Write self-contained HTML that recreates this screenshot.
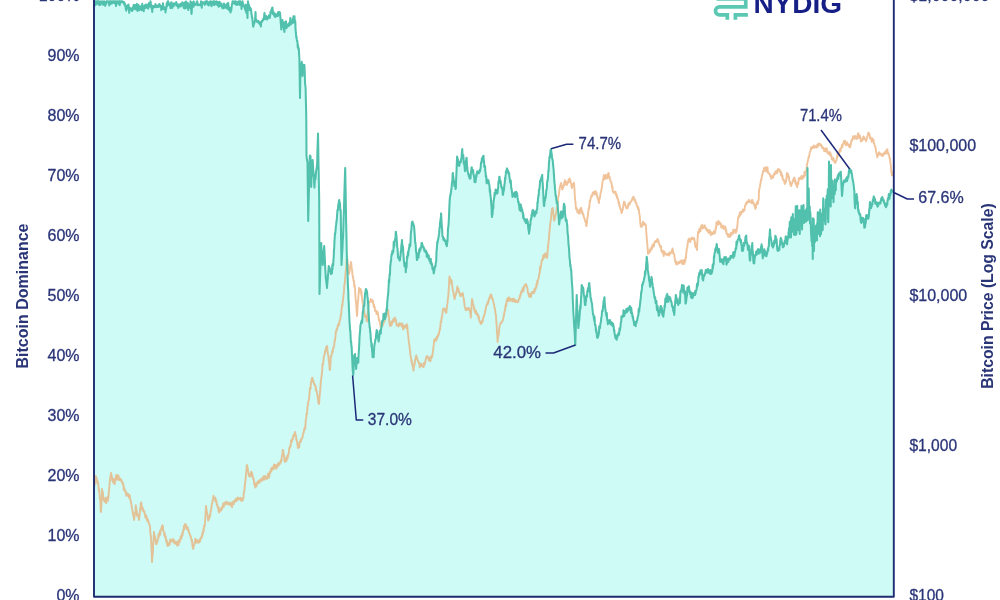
<!DOCTYPE html>
<html><head><meta charset="utf-8"><title>Bitcoin Dominance vs Bitcoin Price</title>
<style>html,body{margin:0;padding:0;background:#fff;}body{width:1000px;height:600px;overflow:hidden;}svg{display:block;}</style>
</head><body>
<svg width="1000" height="600" viewBox="0 0 1000 600">
<rect width="1000" height="600" fill="#fff"/>
<path d="M94,596.8 L94.00,2.5 L94.25,2.2 L94.50,1.3 L94.75,5.6 L95.00,3.9 L95.25,1.3 L95.50,1.3 L95.75,2.4 L96.00,2.7 L96.25,4.4 L96.50,2.7 L96.75,1.3 L97.00,2.0 L97.25,1.3 L97.50,1.3 L97.75,2.2 L98.00,1.3 L98.25,4.0 L98.50,3.5 L98.75,1.3 L99.00,3.2 L99.25,5.2 L99.50,2.8 L99.75,2.4 L100.00,2.5 L100.25,2.8 L100.50,1.4 L100.75,4.6 L101.00,1.8 L101.25,3.6 L101.50,2.6 L101.75,2.3 L102.00,1.3 L102.25,1.3 L102.50,3.2 L102.75,1.6 L103.00,1.5 L103.25,4.8 L103.50,1.8 L103.75,2.6 L104.00,1.4 L104.25,1.3 L104.50,1.6 L104.75,3.3 L105.00,3.0 L105.25,5.8 L105.50,3.6 L105.75,4.3 L106.00,4.2 L106.25,2.5 L106.50,1.3 L106.75,1.8 L107.00,1.3 L107.25,1.3 L107.50,1.3 L107.75,1.3 L108.00,2.0 L108.25,1.5 L108.50,2.8 L108.75,2.5 L109.00,3.7 L109.25,5.4 L109.50,1.3 L109.75,2.7 L110.00,2.5 L110.25,1.3 L110.50,3.9 L110.75,2.0 L111.00,2.1 L111.25,3.2 L111.50,1.3 L111.75,2.8 L112.00,3.4 L112.25,1.4 L112.50,2.3 L112.75,2.8 L113.00,1.5 L113.25,1.3 L113.50,2.1 L113.75,1.3 L114.00,1.6 L114.25,2.6 L114.50,3.2 L114.75,1.3 L115.00,3.0 L115.25,3.4 L115.50,3.1 L115.75,1.3 L116.00,6.0 L116.25,4.0 L116.50,3.3 L116.75,3.6 L117.00,1.3 L117.25,2.0 L117.50,1.3 L117.75,2.5 L118.00,2.0 L118.25,2.5 L118.50,3.4 L118.75,3.8 L119.00,1.3 L119.25,3.4 L119.50,1.3 L119.75,5.1 L120.00,2.5 L120.25,1.3 L120.50,2.4 L120.75,2.5 L121.00,1.9 L121.25,1.3 L121.50,1.3 L121.75,1.3 L122.00,2.0 L122.25,1.7 L122.50,1.3 L122.75,1.3 L123.00,1.6 L123.25,2.3 L123.50,2.9 L123.75,3.5 L124.00,3.0 L124.25,2.4 L124.50,4.7 L124.75,3.2 L125.00,5.0 L125.25,6.2 L125.50,6.3 L125.75,8.5 L126.00,10.0 L126.25,10.8 L126.50,6.2 L126.75,7.0 L127.00,6.0 L127.25,5.3 L127.50,8.4 L127.75,5.0 L128.00,6.0 L128.25,7.2 L128.50,4.5 L128.75,7.3 L129.00,9.6 L129.25,12.8 L129.50,7.4 L129.75,7.9 L130.00,8.0 L130.25,8.8 L130.50,8.4 L130.75,9.0 L131.00,8.9 L131.25,9.5 L131.50,10.4 L131.75,8.4 L132.00,10.5 L132.25,10.9 L132.50,10.5 L132.75,9.2 L133.00,9.4 L133.25,6.2 L133.50,8.0 L133.75,4.9 L134.00,8.0 L134.25,5.2 L134.50,6.9 L134.75,8.7 L135.00,7.5 L135.25,4.9 L135.50,8.4 L135.75,8.4 L136.00,9.6 L136.25,7.6 L136.50,8.4 L136.75,5.5 L137.00,3.9 L137.25,7.6 L137.50,10.9 L137.75,4.9 L138.00,7.0 L138.25,6.3 L138.50,5.0 L138.75,7.6 L139.00,9.4 L139.25,10.1 L139.50,7.3 L139.75,7.9 L140.00,6.5 L140.25,6.3 L140.50,9.3 L140.75,6.7 L141.00,9.5 L141.25,7.8 L141.50,6.8 L141.75,10.2 L142.00,6.1 L142.25,3.8 L142.50,8.4 L142.75,7.7 L143.00,7.0 L143.25,6.3 L143.50,8.0 L143.75,11.2 L144.00,7.2 L144.25,6.5 L144.50,8.0 L144.75,5.3 L145.00,7.0 L145.25,8.2 L145.50,4.7 L145.75,5.0 L146.00,4.6 L146.25,6.8 L146.50,7.6 L146.75,6.9 L147.00,4.6 L147.25,6.0 L147.50,5.8 L147.75,6.8 L148.00,6.0 L148.25,8.6 L148.50,5.1 L148.75,6.8 L149.00,3.0 L149.25,5.0 L149.50,6.6 L149.75,4.6 L150.00,6.0 L150.25,2.7 L150.50,1.3 L150.75,2.5 L151.00,7.0 L151.25,6.0 L151.50,5.6 L151.75,8.8 L152.00,8.0 L152.25,12.0 L152.50,5.9 L152.75,7.8 L153.00,8.1 L153.25,7.0 L153.50,7.5 L153.75,6.0 L154.00,6.5 L154.25,5.9 L154.50,6.4 L154.75,7.0 L155.00,6.5 L155.25,5.9 L155.50,4.1 L155.75,6.1 L156.00,7.3 L156.25,5.4 L156.50,5.7 L156.75,6.7 L157.00,6.3 L157.25,6.9 L157.50,5.8 L157.75,6.4 L158.00,6.0 L158.25,7.0 L158.50,6.6 L158.75,4.6 L159.00,6.5 L159.25,5.5 L159.50,4.0 L159.75,5.3 L160.00,6.0 L160.25,6.0 L160.50,7.1 L160.75,5.7 L161.00,6.9 L161.25,10.1 L161.50,7.8 L161.75,6.0 L162.00,7.0 L162.25,8.7 L162.50,7.3 L162.75,8.0 L163.00,3.3 L163.25,9.1 L163.50,6.6 L163.75,8.6 L164.00,8.8 L164.25,7.2 L164.50,9.1 L164.75,7.7 L165.00,8.5 L165.25,7.4 L165.50,12.5 L165.75,8.5 L166.00,9.8 L166.25,8.1 L166.50,6.0 L166.75,3.1 L167.00,6.0 L167.25,4.0 L167.50,2.4 L167.75,1.3 L168.00,1.3 L168.25,1.3 L168.50,3.5 L168.75,4.6 L169.00,5.0 L169.25,5.3 L169.50,4.8 L169.75,4.5 L170.00,4.0 L170.25,3.5 L170.50,8.1 L170.75,4.0 L171.00,2.7 L171.25,5.3 L171.50,2.2 L171.75,3.8 L172.00,3.3 L172.25,7.9 L172.50,4.1 L172.75,4.4 L173.00,4.5 L173.25,4.5 L173.50,4.0 L173.75,6.2 L174.00,3.3 L174.25,3.3 L174.50,4.6 L174.75,4.0 L175.00,4.4 L175.25,4.2 L175.50,3.9 L175.75,3.4 L176.00,4.0 L176.25,2.1 L176.50,5.8 L176.75,3.8 L177.00,3.6 L177.25,4.7 L177.50,4.8 L177.75,5.4 L178.00,5.0 L178.25,7.9 L178.50,6.0 L178.75,7.2 L179.00,4.6 L179.25,5.9 L179.50,5.2 L179.75,5.3 L180.00,6.0 L180.25,5.1 L180.50,3.8 L180.75,6.5 L181.00,5.1 L181.25,5.0 L181.50,4.9 L181.75,5.4 L182.00,5.4 L182.25,2.3 L182.50,3.2 L182.75,3.3 L183.00,5.0 L183.25,5.5 L183.50,5.5 L183.75,7.9 L184.00,5.7 L184.25,4.2 L184.50,2.6 L184.75,8.5 L185.00,6.0 L185.25,7.3 L185.50,6.2 L185.75,8.3 L186.00,1.6 L186.25,6.6 L186.50,5.5 L186.75,4.9 L187.00,4.1 L187.25,7.1 L187.50,7.0 L187.75,2.8 L188.00,5.5 L188.25,9.9 L188.50,4.5 L188.75,4.9 L189.00,4.5 L189.25,5.2 L189.50,5.6 L189.75,5.0 L190.00,5.0 L190.25,7.9 L190.50,1.3 L190.75,3.5 L191.00,5.0 L191.25,11.1 L191.50,14.0 L191.75,11.5 L192.00,5.0 L192.25,2.4 L192.50,5.4 L192.75,5.4 L193.00,6.4 L193.25,4.2 L193.50,6.8 L193.75,1.4 L194.00,4.3 L194.25,4.1 L194.50,3.9 L194.75,5.1 L195.00,4.5 L195.25,4.2 L195.50,4.6 L195.75,4.2 L196.00,4.4 L196.25,3.6 L196.50,3.4 L196.75,1.6 L197.00,4.4 L197.25,1.3 L197.50,4.2 L197.75,5.3 L198.00,4.0 L198.25,4.9 L198.50,4.7 L198.75,4.9 L199.00,5.2 L199.25,5.1 L199.50,4.6 L199.75,5.0 L200.00,4.5 L200.25,4.1 L200.50,4.4 L200.75,5.5 L201.00,1.3 L201.25,3.5 L201.50,3.5 L201.75,7.7 L202.00,3.4 L202.25,3.4 L202.50,3.0 L202.75,2.1 L203.00,3.5 L203.25,3.0 L203.50,2.4 L203.75,2.7 L204.00,3.0 L204.25,3.3 L204.50,3.3 L204.75,4.9 L205.00,3.0 L205.25,1.6 L205.50,4.0 L205.75,3.3 L206.00,1.3 L206.25,2.6 L206.50,3.5 L206.75,1.3 L207.00,2.4 L207.25,1.3 L207.50,1.6 L207.75,4.7 L208.00,2.5 L208.25,4.0 L208.50,2.6 L208.75,5.5 L209.00,2.2 L209.25,3.7 L209.50,4.4 L209.75,3.6 L210.00,3.0 L210.25,1.4 L210.50,2.5 L210.75,1.4 L211.00,5.0 L211.25,1.9 L211.50,6.2 L211.75,1.8 L212.00,4.3 L212.25,4.4 L212.50,1.7 L212.75,4.4 L213.00,2.0 L213.25,1.3 L213.50,1.3 L213.75,1.3 L214.00,1.9 L214.25,5.2 L214.50,2.8 L214.75,1.3 L215.00,2.5 L215.25,4.2 L215.50,2.7 L215.75,4.2 L216.00,2.8 L216.25,2.0 L216.50,1.8 L216.75,1.3 L217.00,1.9 L217.25,4.1 L217.50,5.3 L217.75,2.0 L218.00,3.0 L218.25,2.3 L218.50,3.5 L218.75,6.8 L219.00,5.3 L219.25,3.4 L219.50,1.7 L219.75,2.3 L220.00,3.5 L220.25,5.5 L220.50,5.8 L220.75,4.6 L221.00,5.4 L221.25,4.4 L221.50,3.5 L221.75,6.8 L222.00,6.5 L222.25,5.5 L222.50,8.3 L222.75,5.8 L223.00,5.5 L223.25,5.7 L223.50,8.3 L223.75,6.0 L224.00,3.6 L224.25,6.1 L224.50,5.1 L224.75,5.0 L225.00,6.0 L225.25,7.6 L225.50,6.0 L225.75,5.1 L226.00,6.6 L226.25,7.7 L226.50,6.1 L226.75,6.6 L227.00,3.7 L227.25,8.8 L227.50,7.3 L227.75,7.6 L228.00,7.0 L228.25,2.9 L228.50,7.0 L228.75,7.0 L229.00,9.8 L229.25,10.3 L229.50,7.5 L229.75,8.0 L230.00,9.0 L230.25,9.6 L230.50,12.5 L230.75,9.8 L231.00,11.0 L231.25,10.5 L231.50,8.2 L231.75,5.8 L232.00,4.0 L232.25,3.8 L232.50,1.3 L232.75,1.3 L233.00,2.0 L233.25,2.9 L233.50,1.8 L233.75,2.6 L234.00,1.3 L234.25,3.7 L234.50,2.1 L234.75,1.9 L235.00,3.5 L235.25,3.1 L235.50,1.3 L235.75,4.4 L236.00,4.4 L236.25,4.7 L236.50,3.6 L236.75,1.9 L237.00,3.6 L237.25,5.0 L237.50,2.3 L237.75,3.1 L238.00,3.0 L238.25,3.7 L238.50,1.3 L238.75,2.5 L239.00,2.5 L239.25,3.6 L239.50,4.9 L239.75,1.3 L240.00,3.0 L240.25,1.3 L240.50,2.0 L240.75,3.1 L241.00,3.4 L241.25,3.9 L241.50,9.0 L241.75,2.1 L242.00,4.7 L242.25,2.1 L242.50,1.3 L242.75,3.2 L243.00,4.0 L243.25,3.7 L243.50,6.2 L243.75,6.5 L244.00,5.9 L244.25,6.5 L244.50,6.9 L244.75,7.6 L245.00,9.0 L245.25,9.6 L245.50,10.4 L245.75,4.7 L246.00,9.2 L246.25,12.6 L246.50,8.5 L246.75,7.5 L247.00,9.0 L247.25,13.4 L247.50,18.0 L247.75,5.3 L248.00,1.3 L248.25,3.4 L248.50,5.2 L248.75,8.1 L249.00,5.0 L249.25,6.4 L249.50,7.2 L249.75,10.2 L250.00,9.0 L250.25,7.7 L250.50,8.3 L250.75,8.9 L251.00,9.0 L251.25,11.4 L251.50,14.1 L251.75,14.9 L252.00,18.0 L252.25,17.2 L252.50,20.7 L252.75,22.5 L253.00,26.0 L253.25,26.8 L253.50,25.8 L253.75,23.6 L254.00,23.0 L254.25,23.5 L254.50,22.0 L254.75,21.6 L255.00,21.0 L255.25,16.5 L255.50,12.0 L255.75,17.4 L256.00,21.0 L256.25,20.1 L256.50,20.0 L256.75,21.6 L257.00,21.2 L257.25,21.8 L257.50,21.2 L257.75,22.0 L258.00,22.0 L258.25,22.3 L258.50,21.0 L258.75,23.2 L259.00,23.2 L259.25,22.5 L259.50,22.2 L259.75,24.2 L260.00,24.0 L260.25,24.0 L260.50,23.8 L260.75,26.5 L261.00,26.0 L261.25,21.6 L261.50,22.3 L261.75,21.8 L262.00,21.0 L262.25,20.6 L262.50,20.9 L262.75,20.4 L263.00,20.3 L263.25,18.8 L263.50,19.9 L263.75,18.1 L264.00,18.0 L264.25,14.9 L264.50,13.0 L264.75,16.3 L265.00,19.0 L265.25,19.0 L265.50,19.0 L265.75,18.3 L266.00,19.1 L266.25,16.0 L266.50,17.7 L266.75,19.3 L267.00,18.6 L267.25,19.4 L267.50,18.6 L267.75,17.3 L268.00,18.0 L268.25,16.9 L268.50,17.5 L268.75,16.2 L269.00,15.4 L269.25,16.3 L269.50,17.9 L269.75,17.9 L270.00,16.0 L270.25,15.4 L270.50,11.8 L270.75,13.3 L271.00,12.0 L271.25,10.6 L271.50,9.6 L271.75,9.4 L272.00,8.0 L272.25,12.4 L272.50,7.5 L272.75,12.1 L273.00,14.0 L273.25,11.5 L273.50,13.7 L273.75,14.4 L274.00,15.0 L274.25,14.5 L274.50,16.0 L274.75,13.4 L275.00,15.5 L275.25,17.1 L275.50,14.0 L275.75,14.7 L276.00,14.5 L276.25,16.1 L276.50,15.6 L276.75,14.9 L277.00,15.0 L277.25,14.9 L277.50,16.1 L277.75,13.8 L278.00,12.3 L278.25,15.7 L278.50,13.5 L278.75,13.0 L279.00,12.1 L279.25,12.7 L279.50,12.2 L279.75,12.5 L280.00,12.5 L280.25,15.8 L280.50,18.3 L280.75,23.0 L281.00,25.0 L281.25,29.4 L281.50,21.3 L281.75,21.3 L282.00,20.9 L282.25,20.0 L282.50,20.0 L282.74,23.3 L282.98,22.4 L283.21,27.2 L283.45,27.1 L283.69,26.8 L283.92,30.3 L284.16,29.8 L284.40,32.0 L284.70,26.7 L285.00,22.5 L285.25,21.7 L285.50,24.3 L285.75,25.5 L286.00,21.4 L286.25,25.7 L286.50,28.2 L286.75,26.1 L287.00,24.2 L287.25,26.7 L287.50,26.0 L287.75,26.0 L288.00,25.2 L288.25,24.9 L288.50,26.1 L288.75,24.0 L289.00,24.9 L289.25,22.7 L289.50,25.4 L289.75,23.5 L290.00,22.5 L290.25,18.1 L290.50,23.2 L290.75,23.2 L291.00,24.2 L291.25,20.3 L291.50,23.6 L291.75,23.2 L292.00,22.5 L292.25,21.3 L292.50,21.5 L292.75,18.6 L293.00,19.6 L293.25,22.7 L293.50,16.2 L293.75,22.1 L294.00,17.5 L294.25,18.6 L294.50,16.2 L294.75,20.7 L295.00,22.5 L295.25,21.0 L295.50,28.3 L295.75,31.4 L296.00,34.0 L296.25,37.3 L296.50,36.6 L296.75,39.4 L297.00,41.1 L297.25,40.6 L297.50,42.5 L297.75,47.4 L298.00,44.9 L298.25,47.9 L298.50,49.7 L298.75,48.2 L299.00,52.0 L299.20,56.0 L299.40,59.0 L299.70,77.5 L300.00,98.0 L300.30,79.7 L300.60,64.0 L300.83,65.6 L301.07,63.5 L301.30,64.5 L301.53,65.9 L301.77,61.7 L302.00,66.0 L302.25,71.5 L302.50,76.0 L302.75,72.1 L303.00,66.0 L303.23,64.8 L303.47,66.6 L303.70,65.2 L303.93,65.9 L304.17,65.6 L304.40,65.0 L304.70,71.0 L305.00,82.5 L305.30,85.5 L305.60,88.0 L305.83,98.2 L306.07,107.3 L306.30,120.0 L306.50,156.0 L306.75,158.1 L307.00,159.8 L307.25,161.0 L307.50,163.0 L307.73,182.5 L307.97,201.6 L308.20,221.0 L308.45,210.5 L308.70,199.9 L308.95,189.7 L309.20,178.4 L309.45,168.9 L309.70,157.5 L309.97,155.6 L310.23,157.8 L310.50,156.0 L310.73,162.7 L310.97,176.1 L311.20,187.0 L311.45,177.9 L311.70,175.9 L311.95,173.2 L312.20,168.5 L312.45,165.2 L312.70,160.0 L312.95,164.9 L313.20,170.2 L313.45,171.5 L313.70,174.8 L313.95,178.5 L314.20,184.0 L314.45,187.6 L314.70,182.5 L314.95,178.5 L315.20,174.6 L315.45,179.4 L315.70,177.0 L315.95,173.2 L316.20,170.3 L316.45,169.7 L316.70,167.5 L316.95,165.0 L317.20,162.0 L317.47,149.5 L317.73,143.5 L318.00,133.5 L318.24,145.9 L318.48,162.5 L318.72,173.1 L318.96,187.1 L319.20,200.0 L319.50,294.0 L319.74,287.1 L319.99,279.5 L320.23,272.9 L320.47,265.5 L320.71,259.2 L320.96,250.1 L321.20,243.0 L321.45,248.3 L321.70,250.4 L321.95,255.0 L322.20,258.5 L322.45,259.1 L322.70,265.0 L322.95,263.1 L323.20,259.1 L323.45,255.5 L323.70,253.5 L323.95,248.8 L324.20,246.0 L324.45,251.1 L324.70,256.9 L324.95,261.6 L325.20,268.1 L325.45,271.2 L325.70,277.0 L325.96,279.4 L326.22,281.2 L326.48,283.2 L326.74,285.0 L327.00,288.0 L327.24,284.3 L327.49,281.1 L327.73,279.4 L327.97,275.2 L328.21,273.3 L328.46,270.1 L328.70,266.0 L328.96,266.7 L329.21,266.7 L329.47,270.5 L329.72,268.0 L329.98,270.3 L330.23,269.6 L330.49,272.0 L330.74,272.4 L331.00,274.0 L331.24,271.5 L331.49,273.7 L331.73,271.1 L331.98,273.2 L332.22,265.2 L332.47,269.5 L332.71,263.8 L332.96,265.7 L333.20,265.0 L333.45,259.6 L333.70,257.3 L333.95,250.4 L334.20,248.5 L334.45,241.4 L334.70,238.0 L334.96,233.3 L335.21,233.6 L335.47,231.2 L335.72,228.5 L335.98,225.4 L336.23,224.2 L336.49,220.9 L336.74,221.0 L337.00,216.0 L337.24,213.2 L337.49,209.7 L337.73,210.7 L337.98,209.3 L338.22,205.0 L338.47,204.2 L338.71,203.9 L338.96,200.7 L339.20,200.0 L339.45,202.5 L339.70,203.8 L339.95,203.0 L340.20,209.5 L340.45,211.0 L340.70,210.0 L340.97,229.5 L341.23,248.2 L341.50,265.0 L341.75,260.7 L342.00,255.9 L342.25,251.1 L342.50,248.3 L342.75,240.6 L343.00,238.0 L343.24,231.0 L343.49,222.1 L343.73,214.7 L343.98,209.2 L344.22,199.1 L344.47,190.0 L344.71,183.0 L344.96,174.6 L345.20,168.0 L345.45,181.8 L345.70,194.6 L345.95,212.0 L346.20,226.2 L346.45,236.8 L346.70,250.0 L346.96,259.4 L347.21,267.2 L347.47,272.0 L347.73,278.9 L347.99,288.3 L348.24,289.5 L348.50,300.0 L348.75,303.5 L349.00,311.0 L349.25,315.3 L349.50,321.5 L349.77,325.0 L350.05,330.5 L350.33,330.6 L350.60,336.7 L350.88,342.2 L351.15,342.1 L351.43,346.3 L351.70,347.5 L351.98,354.6 L352.25,359.4 L352.52,366.0 L352.80,371.5 L353.00,372.6 L353.20,375.0 L353.47,372.7 L353.73,364.8 L354.00,358.0 L354.25,355.3 L354.50,357.2 L354.75,354.7 L355.00,354.0 L355.27,359.0 L355.55,363.9 L355.83,364.3 L356.10,369.0 L356.38,365.7 L356.65,363.8 L356.93,363.0 L357.20,358.0 L357.48,358.5 L357.75,361.0 L358.02,359.8 L358.30,362.6 L358.55,355.5 L358.80,351.8 L359.05,347.5 L359.30,343.0 L359.57,336.3 L359.85,333.1 L360.12,330.4 L360.40,325.8 L360.67,324.2 L360.95,323.9 L361.23,322.0 L361.50,321.5 L361.77,320.2 L362.05,322.8 L362.33,320.2 L362.60,315.0 L362.88,311.4 L363.15,311.8 L363.43,308.2 L363.70,306.0 L363.98,305.2 L364.25,306.0 L364.52,299.8 L364.80,297.7 L365.05,293.3 L365.30,293.9 L365.55,291.5 L365.80,289.0 L366.07,289.2 L366.35,289.6 L366.62,290.8 L366.90,291.0 L367.17,293.7 L367.45,296.9 L367.73,298.3 L368.00,302.0 L368.27,305.4 L368.55,312.1 L368.83,317.2 L369.10,321.5 L369.38,324.0 L369.65,327.8 L369.93,327.6 L370.20,332.5 L370.48,332.5 L370.75,339.0 L371.02,340.7 L371.30,343.0 L371.55,346.8 L371.80,343.5 L372.05,350.5 L372.30,352.0 L372.57,357.1 L372.85,353.5 L373.12,353.5 L373.40,356.0 L373.67,357.2 L373.95,351.5 L374.23,346.7 L374.50,345.0 L374.77,343.4 L375.05,341.7 L375.33,339.1 L375.60,339.0 L375.88,338.7 L376.15,334.1 L376.43,332.2 L376.70,330.0 L376.98,330.8 L377.25,333.7 L377.52,335.8 L377.80,336.7 L378.05,336.5 L378.30,339.3 L378.55,341.5 L378.80,341.0 L379.07,338.2 L379.35,336.8 L379.62,331.6 L379.90,332.5 L380.17,330.2 L380.45,331.0 L380.73,333.7 L381.00,330.0 L381.27,327.9 L381.55,326.6 L381.83,324.5 L382.10,321.5 L382.38,320.6 L382.65,321.3 L382.93,320.9 L383.20,319.3 L383.48,314.0 L383.75,316.6 L384.02,317.3 L384.30,315.0 L384.55,313.5 L384.80,318.2 L385.05,319.2 L385.30,317.0 L385.57,316.1 L385.85,314.4 L386.12,313.6 L386.40,310.6 L386.67,308.3 L386.95,310.1 L387.23,302.5 L387.50,300.0 L387.77,296.9 L388.05,295.0 L388.33,291.5 L388.60,286.8 L388.88,280.1 L389.15,282.8 L389.43,277.2 L389.70,273.8 L389.98,274.8 L390.25,265.3 L390.52,264.9 L390.80,260.8 L391.05,261.0 L391.30,256.6 L391.55,254.3 L391.80,254.3 L392.04,254.6 L392.28,251.1 L392.52,253.6 L392.76,252.7 L393.00,252.0 L393.25,252.0 L393.50,247.6 L393.75,241.7 L394.00,247.0 L394.25,246.1 L394.50,241.7 L394.75,240.6 L395.00,240.0 L395.25,238.5 L395.50,238.1 L395.75,231.9 L396.00,232.0 L396.25,234.4 L396.50,236.8 L396.75,239.9 L397.00,243.9 L397.25,247.6 L397.50,248.1 L397.75,252.2 L398.00,256.0 L398.25,257.9 L398.50,258.3 L398.75,258.7 L399.00,258.4 L399.25,257.9 L399.50,259.9 L399.75,260.6 L400.00,260.0 L400.25,257.0 L400.50,255.6 L400.75,251.4 L401.00,252.8 L401.25,247.1 L401.50,244.4 L401.75,242.7 L402.00,240.0 L402.25,243.9 L402.50,245.3 L402.75,245.9 L403.00,247.6 L403.25,252.0 L403.50,255.3 L403.75,259.1 L404.00,262.0 L404.25,263.4 L404.50,266.3 L404.75,265.0 L405.00,263.1 L405.25,266.2 L405.50,264.5 L405.75,272.2 L406.00,268.0 L406.25,264.9 L406.50,267.6 L406.75,263.3 L407.00,256.5 L407.25,258.5 L407.50,257.2 L407.75,253.9 L408.00,252.0 L408.25,255.2 L408.50,250.9 L408.75,250.5 L409.00,247.8 L409.25,248.3 L409.50,244.4 L409.75,246.5 L410.00,246.0 L410.25,246.1 L410.50,241.6 L410.75,234.8 L411.00,231.6 L411.25,230.8 L411.50,227.9 L411.75,224.0 L412.00,222.0 L412.25,222.1 L412.50,221.7 L412.75,222.1 L413.00,224.0 L413.25,223.7 L413.50,225.0 L413.75,225.6 L414.00,226.0 L414.25,228.6 L414.50,232.0 L414.75,235.4 L415.00,240.0 L415.25,243.1 L415.50,242.9 L415.75,246.9 L416.00,251.7 L416.25,251.8 L416.50,254.2 L416.75,258.4 L417.00,260.0 L417.25,259.5 L417.50,253.8 L417.75,256.6 L418.00,257.5 L418.25,255.0 L418.50,257.6 L418.75,254.8 L419.00,251.9 L419.25,249.4 L419.50,252.3 L419.75,251.2 L420.00,250.0 L420.25,248.0 L420.50,249.7 L420.75,248.5 L421.00,247.0 L421.25,247.2 L421.50,243.0 L421.75,244.3 L422.00,243.0 L422.25,245.0 L422.50,244.7 L422.75,246.4 L423.00,247.1 L423.25,246.9 L423.50,247.0 L423.75,247.6 L424.00,249.3 L424.25,248.4 L424.50,251.4 L424.75,251.5 L425.00,250.0 L425.25,251.6 L425.50,250.9 L425.75,252.4 L426.00,252.2 L426.25,251.0 L426.50,252.5 L426.75,256.7 L427.00,255.4 L427.25,253.3 L427.50,254.3 L427.75,254.6 L428.00,256.0 L428.25,258.1 L428.50,257.2 L428.75,255.6 L429.00,259.2 L429.25,258.3 L429.50,260.8 L429.75,259.3 L430.00,260.6 L430.25,260.4 L430.50,263.5 L430.75,258.8 L431.00,262.0 L431.25,263.9 L431.50,262.8 L431.75,265.7 L432.00,263.9 L432.25,265.9 L432.50,269.1 L432.75,267.3 L433.00,268.0 L433.25,268.8 L433.50,271.5 L433.75,273.4 L434.00,272.0 L434.25,270.5 L434.50,269.3 L434.75,267.5 L435.00,266.2 L435.25,266.1 L435.50,266.4 L435.75,263.0 L436.00,262.0 L436.25,260.1 L436.50,251.5 L436.75,249.6 L437.00,246.4 L437.26,241.9 L437.51,243.2 L437.77,241.4 L438.03,239.6 L438.29,238.8 L438.54,237.2 L438.80,235.4 L439.06,233.7 L439.31,231.7 L439.57,227.6 L439.82,227.1 L440.08,222.3 L440.33,221.5 L440.59,218.5 L440.84,219.8 L441.10,213.4 L441.36,218.1 L441.62,223.1 L441.88,227.3 L442.14,229.2 L442.40,235.4 L442.64,236.7 L442.88,237.6 L443.11,236.7 L443.35,239.7 L443.59,239.0 L443.82,238.2 L444.06,240.1 L444.30,239.0 L444.55,240.8 L444.79,240.5 L445.04,240.7 L445.28,241.5 L445.53,240.6 L445.77,242.2 L446.02,244.3 L446.26,242.5 L446.51,241.8 L446.75,246.3 L447.00,245.5 L447.26,241.5 L447.51,241.5 L447.77,234.5 L448.03,228.0 L448.29,227.1 L448.54,225.0 L448.80,220.7 L449.05,214.7 L449.30,208.6 L449.55,203.1 L449.80,198.7 L450.06,196.6 L450.31,194.8 L450.57,195.1 L450.83,193.0 L451.09,191.3 L451.34,188.9 L451.60,187.7 L451.86,183.9 L452.12,182.1 L452.38,180.3 L452.64,174.2 L452.90,173.0 L453.13,175.4 L453.37,177.4 L453.60,180.0 L453.83,180.3 L454.07,182.2 L454.30,185.9 L454.55,186.0 L454.80,186.2 L455.05,185.9 L455.30,185.8 L455.55,188.9 L455.80,188.6 L456.06,181.3 L456.32,175.0 L456.58,170.1 L456.84,162.4 L457.10,156.5 L457.34,159.2 L457.58,158.3 L457.81,160.1 L458.05,159.8 L458.29,163.4 L458.52,163.5 L458.76,165.6 L459.00,165.7 L459.26,165.9 L459.51,163.0 L459.77,161.8 L460.03,162.9 L460.29,161.8 L460.54,161.0 L460.80,162.0 L461.04,160.4 L461.28,158.5 L461.52,157.7 L461.76,154.5 L462.00,152.0 L462.25,149.1 L462.50,154.7 L462.75,157.7 L463.00,158.3 L463.25,154.9 L463.50,158.3 L463.75,163.8 L464.00,162.2 L464.25,161.5 L464.50,165.6 L464.75,169.1 L465.00,171.2 L465.26,170.9 L465.52,164.9 L465.78,161.1 L466.04,161.6 L466.30,158.3 L466.56,157.7 L466.81,161.1 L467.07,166.2 L467.33,167.3 L467.59,170.8 L467.84,172.4 L468.10,173.0 L468.34,174.4 L468.58,174.3 L468.81,176.0 L469.05,176.3 L469.29,174.7 L469.52,178.5 L469.76,177.8 L470.00,178.5 L470.26,178.0 L470.51,178.5 L470.77,174.3 L471.03,172.1 L471.29,170.1 L471.54,167.4 L471.80,167.5 L472.06,169.0 L472.31,170.0 L472.57,170.7 L472.83,172.5 L473.09,169.9 L473.34,172.8 L473.60,174.9 L473.84,175.2 L474.08,177.0 L474.31,177.4 L474.55,182.1 L474.79,180.1 L475.02,178.6 L475.26,180.6 L475.50,182.2 L475.76,178.9 L476.01,178.3 L476.27,174.2 L476.53,176.4 L476.79,173.9 L477.04,172.1 L477.30,171.2 L477.55,171.4 L477.79,173.2 L478.04,171.4 L478.28,172.6 L478.53,172.6 L478.77,173.2 L479.02,172.3 L479.26,172.8 L479.51,172.2 L479.75,169.9 L480.00,171.2 L480.24,170.0 L480.48,168.5 L480.71,167.3 L480.95,163.3 L481.19,162.1 L481.42,163.0 L481.66,160.9 L481.90,158.3 L482.13,158.7 L482.37,160.2 L482.60,157.3 L482.83,158.3 L483.07,156.0 L483.30,156.5 L483.56,155.7 L483.82,162.1 L484.08,161.1 L484.34,167.0 L484.60,165.7 L484.84,167.6 L485.08,166.2 L485.31,171.6 L485.55,172.0 L485.79,176.2 L486.02,177.7 L486.26,176.0 L486.50,182.2 L486.76,183.4 L487.01,180.3 L487.27,182.3 L487.53,181.7 L487.79,179.8 L488.04,181.7 L488.30,182.2 L488.56,180.5 L488.81,183.1 L489.07,184.0 L489.33,184.5 L489.59,187.6 L489.84,192.2 L490.10,189.5 L490.34,194.7 L490.58,196.0 L490.81,197.9 L491.05,201.7 L491.29,204.4 L491.52,206.8 L491.76,214.0 L492.00,217.0 L492.26,215.1 L492.51,214.2 L492.77,210.5 L493.03,208.0 L493.29,208.5 L493.54,200.5 L493.80,200.6 L494.06,197.8 L494.31,197.6 L494.57,192.7 L494.83,192.7 L495.09,194.1 L495.34,194.7 L495.60,189.5 L495.84,189.9 L496.08,189.8 L496.31,192.4 L496.55,190.3 L496.79,190.8 L497.02,191.7 L497.26,193.4 L497.50,193.2 L497.76,190.2 L498.01,189.0 L498.27,186.0 L498.53,181.3 L498.79,183.5 L499.04,180.1 L499.30,176.7 L499.56,176.8 L499.81,180.3 L500.07,180.3 L500.33,181.0 L500.59,180.9 L500.84,183.2 L501.10,184.0 L501.34,187.0 L501.58,187.7 L501.81,187.5 L502.05,187.4 L502.29,189.3 L502.52,190.3 L502.76,194.1 L503.00,195.0 L503.25,192.9 L503.50,191.4 L503.75,190.4 L504.00,189.8 L504.25,185.9 L504.50,184.8 L504.75,183.0 L505.00,178.1 L505.25,179.7 L505.50,176.7 L505.75,174.4 L506.00,171.2 L506.25,172.6 L506.50,170.9 L506.75,169.5 L507.00,168.4 L507.24,169.4 L507.49,170.4 L507.73,170.6 L507.98,170.5 L508.22,171.6 L508.47,173.5 L508.71,173.0 L508.96,172.6 L509.20,174.9 L509.46,177.7 L509.71,178.1 L509.97,181.0 L510.23,182.5 L510.49,181.4 L510.74,180.4 L511.00,184.0 L511.25,188.4 L511.50,188.5 L511.75,190.2 L512.00,192.4 L512.25,194.2 L512.50,196.9 L512.74,195.8 L512.99,195.0 L513.23,195.4 L513.48,195.8 L513.72,193.3 L513.97,194.0 L514.21,195.5 L514.46,192.5 L514.70,193.2 L514.94,192.2 L515.19,197.1 L515.43,194.0 L515.68,192.1 L515.92,194.5 L516.17,191.7 L516.41,193.4 L516.66,192.8 L516.90,193.2 L517.13,193.8 L517.37,195.7 L517.60,197.9 L517.83,199.3 L518.07,200.9 L518.30,202.4 L518.54,201.5 L518.77,203.4 L519.01,205.4 L519.25,205.6 L519.49,209.6 L519.73,206.5 L519.96,204.8 L520.20,207.9 L520.46,210.9 L520.71,204.4 L520.97,206.3 L521.23,208.3 L521.49,207.4 L521.74,209.4 L522.00,209.7 L522.24,209.9 L522.48,211.6 L522.71,213.7 L522.95,212.7 L523.19,217.9 L523.42,214.5 L523.66,217.6 L523.90,218.9 L524.16,218.7 L524.41,219.6 L524.67,220.8 L524.93,220.5 L525.19,219.2 L525.44,222.1 L525.70,222.6 L525.96,223.0 L526.21,223.2 L526.47,221.7 L526.73,221.9 L526.99,219.2 L527.24,221.7 L527.50,220.7 L527.75,221.9 L528.00,224.7 L528.25,227.4 L528.50,230.5 L528.75,228.5 L529.00,233.6 L529.26,231.4 L529.51,230.7 L529.77,227.6 L530.03,224.5 L530.29,225.5 L530.54,221.2 L530.80,218.9 L531.04,219.4 L531.27,218.5 L531.51,214.9 L531.75,216.9 L531.99,214.3 L532.23,212.4 L532.46,210.3 L532.70,211.6 L532.94,212.9 L533.19,214.6 L533.43,210.2 L533.68,214.4 L533.92,212.4 L534.17,213.3 L534.41,216.4 L534.66,216.4 L534.90,215.2 L535.16,214.9 L535.41,211.7 L535.67,212.9 L535.93,212.2 L536.19,210.7 L536.44,213.3 L536.70,209.7 L536.96,209.5 L537.21,208.7 L537.47,202.2 L537.73,203.1 L537.99,198.8 L538.24,197.1 L538.50,195.0 L538.74,195.5 L538.98,189.6 L539.21,189.5 L539.45,188.8 L539.69,186.5 L539.92,183.8 L540.16,180.4 L540.40,180.4 L540.66,180.7 L540.91,179.6 L541.17,178.1 L541.43,179.3 L541.69,176.6 L541.94,177.9 L542.20,174.9 L542.46,181.8 L542.71,182.7 L542.97,187.8 L543.23,193.4 L543.49,197.1 L543.74,203.4 L544.00,206.0 L544.24,205.9 L544.48,201.1 L544.71,200.8 L544.95,200.6 L545.19,197.7 L545.42,198.5 L545.66,197.7 L545.90,195.0 L546.14,192.7 L546.39,189.7 L546.63,189.8 L546.88,187.7 L547.12,182.9 L547.37,180.6 L547.61,181.2 L547.86,178.8 L548.10,176.7 L548.33,170.7 L548.57,171.7 L548.80,166.7 L549.03,161.9 L549.27,160.1 L549.50,156.5 L549.75,158.0 L550.00,156.2 L550.25,152.9 L550.50,150.1 L550.75,150.4 L551.00,149.2 L551.26,151.3 L551.52,153.0 L551.78,154.6 L552.04,158.1 L552.30,158.3 L552.56,160.1 L552.82,161.0 L553.08,164.6 L553.34,166.9 L553.60,169.4 L553.83,173.4 L554.07,176.5 L554.30,180.2 L554.53,183.3 L554.77,184.7 L555.00,189.5 L555.25,190.2 L555.50,194.5 L555.75,196.1 L556.00,195.8 L556.25,199.1 L556.50,200.6 L556.76,203.2 L557.02,201.9 L557.28,201.6 L557.54,203.5 L557.80,206.0 L558.06,210.2 L558.32,212.9 L558.58,216.8 L558.84,219.9 L559.10,224.4 L559.36,222.4 L559.61,221.2 L559.87,217.5 L560.13,215.0 L560.39,217.1 L560.64,215.7 L560.90,211.6 L561.14,211.5 L561.38,214.1 L561.61,218.5 L561.85,214.3 L562.09,216.6 L562.32,216.9 L562.56,215.4 L562.80,217.0 L563.03,213.2 L563.27,210.3 L563.50,210.0 L563.73,205.9 L563.97,203.7 L564.20,204.2 L564.45,208.2 L564.70,206.0 L564.95,212.0 L565.20,214.8 L565.45,217.2 L565.70,220.7 L565.96,219.5 L566.22,221.0 L566.48,219.4 L566.74,221.0 L567.00,224.4 L567.26,225.3 L567.52,231.6 L567.78,234.6 L568.04,235.0 L568.30,240.0 L568.54,245.0 L568.79,246.1 L569.03,248.8 L569.27,253.3 L569.51,257.9 L569.76,259.2 L570.00,262.0 L570.25,266.1 L570.50,264.6 L570.75,268.1 L571.00,270.0 L571.25,269.8 L571.50,275.8 L571.75,279.6 L572.00,283.6 L572.25,286.4 L572.50,290.0 L572.77,299.7 L573.03,303.8 L573.30,311.7 L573.54,315.2 L573.78,318.6 L574.02,323.2 L574.26,326.9 L574.50,330.0 L574.77,334.6 L575.03,341.5 L575.30,345.0 L575.53,337.0 L575.77,328.8 L576.00,319.4 L576.23,312.2 L576.47,303.4 L576.70,295.0 L576.97,300.3 L577.23,308.4 L577.50,310.3 L577.77,316.7 L578.03,321.7 L578.30,328.0 L578.55,326.4 L578.80,323.7 L579.05,320.8 L579.30,319.9 L579.55,315.8 L579.80,313.0 L580.05,309.0 L580.30,305.4 L580.55,308.6 L580.80,303.0 L581.02,299.2 L581.25,296.7 L581.48,289.6 L581.70,285.0 L581.97,285.6 L582.23,287.2 L582.50,286.7 L582.77,287.1 L583.03,288.8 L583.30,288.0 L583.54,291.6 L583.79,294.4 L584.03,295.9 L584.27,295.9 L584.51,298.5 L584.76,303.0 L585.00,305.0 L585.24,302.9 L585.49,305.0 L585.73,297.7 L585.97,301.5 L586.21,296.6 L586.46,296.6 L586.70,295.0 L586.95,296.8 L587.20,292.5 L587.45,290.7 L587.70,290.4 L587.95,288.2 L588.20,291.3 L588.45,289.3 L588.70,287.5 L588.95,283.2 L589.20,283.0 L589.47,285.2 L589.73,287.8 L590.00,291.6 L590.27,293.6 L590.53,297.6 L590.80,298.0 L591.05,298.7 L591.30,300.8 L591.55,302.0 L591.80,303.0 L592.05,304.1 L592.30,307.8 L592.55,309.5 L592.80,312.4 L593.05,314.4 L593.30,315.0 L593.55,314.7 L593.80,318.2 L594.05,319.4 L594.30,320.9 L594.55,316.8 L594.80,322.8 L595.05,325.2 L595.30,324.7 L595.55,325.8 L595.80,328.0 L596.04,331.7 L596.29,329.3 L596.53,333.3 L596.77,333.2 L597.01,337.3 L597.26,336.0 L597.50,338.0 L597.75,337.6 L598.00,335.5 L598.25,336.2 L598.50,335.3 L598.75,332.1 L599.00,332.9 L599.25,326.4 L599.50,328.3 L599.75,328.3 L600.00,328.0 L600.25,325.2 L600.50,323.4 L600.75,322.3 L601.00,321.4 L601.25,317.5 L601.50,316.8 L601.75,315.7 L602.00,311.0 L602.25,311.6 L602.50,310.0 L602.74,311.0 L602.99,306.1 L603.23,307.1 L603.47,302.8 L603.71,300.5 L603.96,303.0 L604.20,298.0 L604.47,297.3 L604.73,302.2 L605.00,306.1 L605.27,308.8 L605.53,309.4 L605.80,313.0 L606.05,312.8 L606.30,316.0 L606.55,316.0 L606.80,313.0 L607.05,318.5 L607.30,320.4 L607.55,319.5 L607.80,324.2 L608.05,321.6 L608.30,321.7 L608.54,321.5 L608.79,321.7 L609.03,321.4 L609.27,322.9 L609.51,320.4 L609.76,321.4 L610.00,320.0 L610.25,323.7 L610.51,321.4 L610.76,324.4 L611.02,322.3 L611.27,322.8 L611.52,323.4 L611.78,323.1 L612.03,322.6 L612.28,323.6 L612.54,325.9 L612.79,325.3 L613.05,323.7 L613.30,326.7 L613.55,325.7 L613.80,328.1 L614.05,331.2 L614.30,330.0 L614.55,333.8 L614.80,334.2 L615.05,336.4 L615.30,336.5 L615.55,338.4 L615.80,338.0 L616.04,335.6 L616.29,335.5 L616.53,336.5 L616.77,339.7 L617.01,336.8 L617.26,335.4 L617.50,337.1 L617.74,335.0 L617.99,335.3 L618.23,333.8 L618.47,332.9 L618.71,334.3 L618.96,334.9 L619.20,333.0 L619.45,328.3 L619.70,330.2 L619.95,330.3 L620.20,327.9 L620.45,327.2 L620.70,323.7 L620.95,322.2 L621.20,321.8 L621.45,316.2 L621.70,316.7 L621.95,316.5 L622.21,317.4 L622.46,316.1 L622.72,317.0 L622.97,315.1 L623.22,315.9 L623.48,310.2 L623.73,314.3 L623.98,314.1 L624.24,316.0 L624.49,312.0 L624.75,313.6 L625.00,313.0 L625.25,311.9 L625.50,310.7 L625.75,312.9 L626.00,311.9 L626.25,309.7 L626.50,308.9 L626.75,309.5 L627.00,310.6 L627.25,311.9 L627.50,310.0 L627.75,310.6 L628.00,310.3 L628.25,307.8 L628.50,310.4 L628.75,310.0 L629.00,310.0 L629.25,307.5 L629.50,307.1 L629.75,306.1 L630.00,306.7 L630.25,307.8 L630.50,308.9 L630.75,307.3 L631.00,313.0 L631.25,307.8 L631.50,310.6 L631.75,312.8 L632.00,312.8 L632.25,315.6 L632.50,315.0 L632.74,317.8 L632.99,316.8 L633.23,318.8 L633.47,320.5 L633.71,320.9 L633.96,323.4 L634.20,325.0 L634.45,324.3 L634.70,323.7 L634.95,323.5 L635.20,323.3 L635.45,323.9 L635.70,326.2 L635.95,321.4 L636.20,321.4 L636.45,323.2 L636.70,321.7 L636.95,320.6 L637.20,320.4 L637.45,318.4 L637.70,317.6 L637.95,316.0 L638.20,315.4 L638.45,314.2 L638.70,308.7 L638.95,312.0 L639.20,311.7 L639.45,307.9 L639.70,307.0 L639.95,304.6 L640.20,302.8 L640.45,299.5 L640.70,299.4 L640.95,295.4 L641.20,292.0 L641.45,292.7 L641.70,290.0 L641.95,288.4 L642.20,284.6 L642.45,285.5 L642.70,284.8 L642.95,282.3 L643.20,283.1 L643.45,281.4 L643.70,280.8 L643.95,279.4 L644.20,278.0 L644.47,277.4 L644.73,276.3 L645.00,271.5 L645.27,274.2 L645.53,270.6 L645.80,270.0 L646.02,267.6 L646.25,262.8 L646.48,261.7 L646.70,256.7 L646.97,258.3 L647.23,262.3 L647.50,263.7 L647.77,269.9 L648.03,271.4 L648.30,273.0 L648.54,274.7 L648.79,275.9 L649.03,279.1 L649.27,281.1 L649.51,281.6 L649.76,283.6 L650.00,286.7 L650.24,279.7 L650.49,284.8 L650.73,283.8 L650.97,280.4 L651.21,279.6 L651.46,276.9 L651.70,278.0 L651.95,279.4 L652.20,282.9 L652.45,282.9 L652.70,287.2 L652.95,287.8 L653.20,287.7 L653.45,290.8 L653.70,291.5 L653.95,294.3 L654.20,295.0 L654.45,297.3 L654.70,296.6 L654.95,298.8 L655.20,297.6 L655.45,300.8 L655.70,303.1 L655.95,303.0 L656.20,302.6 L656.45,301.1 L656.70,306.7 L656.95,309.9 L657.20,308.0 L657.45,309.5 L657.70,306.2 L657.95,311.9 L658.20,309.8 L658.45,312.1 L658.70,315.8 L658.95,313.9 L659.20,315.0 L659.47,311.0 L659.73,312.6 L660.00,311.3 L660.27,308.0 L660.53,306.4 L660.80,306.7 L661.05,306.1 L661.30,308.8 L661.55,312.2 L661.80,307.8 L662.05,311.7 L662.30,313.6 L662.55,315.0 L662.80,313.9 L663.05,313.3 L663.30,316.7 L663.55,314.6 L663.80,312.3 L664.05,310.5 L664.30,310.3 L664.55,305.6 L664.80,307.4 L665.05,305.0 L665.30,298.8 L665.55,299.9 L665.80,298.0 L666.04,300.4 L666.29,299.9 L666.53,295.2 L666.77,302.0 L667.01,297.9 L667.26,293.9 L667.50,298.5 L667.74,298.9 L667.99,298.6 L668.23,297.0 L668.47,301.8 L668.71,296.8 L668.96,297.2 L669.20,296.7 L669.45,297.7 L669.70,299.2 L669.95,298.8 L670.20,297.6 L670.45,299.3 L670.70,299.7 L670.95,301.4 L671.20,301.7 L671.45,302.0 L671.70,303.0 L671.95,305.6 L672.20,306.3 L672.45,306.2 L672.70,307.7 L672.95,307.2 L673.20,310.4 L673.45,311.2 L673.70,312.3 L673.95,312.1 L674.20,315.0 L674.47,311.9 L674.73,305.8 L675.00,305.0 L675.27,300.7 L675.53,299.0 L675.80,295.0 L676.05,295.6 L676.30,298.8 L676.55,297.7 L676.80,302.7 L677.05,299.1 L677.30,301.0 L677.55,301.2 L677.80,303.0 L678.05,303.4 L678.30,305.0 L678.54,304.1 L678.79,303.1 L679.03,301.2 L679.27,301.2 L679.51,298.4 L679.76,297.4 L680.00,302.9 L680.24,294.5 L680.49,291.0 L680.73,292.6 L680.97,290.6 L681.21,290.7 L681.46,288.8 L681.70,288.0 L681.95,285.1 L682.20,287.7 L682.45,286.0 L682.70,288.9 L682.95,289.4 L683.20,292.5 L683.45,288.6 L683.70,285.4 L683.95,290.0 L684.20,290.0 L684.47,292.0 L684.73,294.3 L685.00,291.3 L685.27,297.6 L685.53,303.6 L685.80,303.0 L686.05,302.1 L686.30,300.0 L686.55,298.1 L686.80,294.7 L687.05,295.8 L687.30,287.8 L687.55,292.5 L687.80,291.2 L688.05,287.2 L688.30,286.7 L688.54,286.7 L688.79,286.2 L689.03,287.4 L689.27,289.5 L689.51,291.4 L689.76,290.9 L690.00,294.0 L690.24,292.5 L690.49,293.9 L690.73,292.6 L690.97,297.4 L691.21,292.7 L691.46,292.5 L691.70,296.7 L691.95,296.2 L692.21,296.2 L692.46,298.3 L692.72,296.7 L692.97,296.8 L693.22,293.4 L693.48,294.7 L693.73,295.5 L693.98,293.8 L694.24,293.0 L694.49,293.5 L694.75,294.9 L695.00,295.0 L695.25,290.9 L695.50,293.9 L695.75,292.7 L696.00,290.5 L696.25,290.6 L696.50,290.1 L696.75,287.1 L697.00,283.8 L697.25,286.8 L697.50,285.0 L697.74,285.3 L697.99,283.0 L698.23,281.2 L698.47,276.5 L698.71,277.6 L698.96,275.9 L699.20,273.0 L699.45,273.0 L699.70,272.4 L699.95,274.7 L700.20,272.4 L700.45,270.4 L700.70,272.5 L700.95,274.0 L701.20,270.6 L701.45,271.5 L701.70,270.0 L701.97,274.7 L702.23,273.4 L702.50,279.1 L702.77,275.7 L703.03,280.5 L703.30,280.0 L703.55,276.6 L703.80,276.5 L704.05,276.3 L704.30,275.7 L704.55,274.5 L704.80,274.9 L705.05,273.1 L705.30,272.9 L705.55,271.3 L705.80,270.0 L706.04,270.9 L706.29,269.7 L706.53,270.9 L706.77,272.1 L707.01,272.6 L707.26,271.0 L707.50,272.0 L707.74,269.8 L707.99,269.0 L708.23,269.6 L708.47,272.1 L708.71,272.8 L708.96,271.7 L709.20,271.7 L709.45,270.5 L709.70,272.5 L709.95,271.4 L710.20,274.0 L710.45,270.1 L710.70,270.7 L710.95,270.9 L711.20,272.9 L711.45,273.7 L711.70,273.0 L711.95,270.6 L712.20,271.8 L712.45,268.4 L712.70,264.9 L712.95,268.1 L713.20,264.7 L713.45,263.1 L713.70,264.2 L713.95,256.4 L714.20,258.0 L714.47,254.3 L714.73,252.5 L715.00,252.5 L715.24,249.0 L715.49,249.7 L715.73,250.3 L715.97,247.2 L716.21,249.2 L716.46,245.9 L716.70,244.0 L716.96,245.5 L717.22,248.6 L717.48,248.3 L717.74,252.7 L718.00,251.0 L718.25,250.7 L718.50,250.9 L718.75,249.0 L719.00,249.0 L719.24,251.2 L719.48,254.7 L719.72,256.5 L719.96,259.3 L720.20,261.8 L720.46,259.7 L720.71,260.3 L720.97,261.4 L721.23,261.6 L721.49,260.2 L721.74,259.2 L722.00,259.5 L722.24,262.3 L722.48,262.5 L722.72,262.9 L722.96,261.3 L723.20,263.0 L723.46,264.3 L723.71,259.2 L723.97,260.9 L724.23,257.2 L724.49,260.1 L724.74,258.7 L725.00,257.0 L725.24,259.2 L725.49,258.1 L725.73,260.0 L725.97,260.9 L726.21,257.2 L726.46,264.7 L726.70,263.0 L726.96,263.6 L727.21,260.1 L727.47,262.1 L727.72,260.3 L727.98,259.2 L728.23,262.1 L728.49,258.6 L728.74,258.5 L729.00,259.5 L729.26,258.8 L729.51,259.1 L729.77,259.8 L730.02,258.4 L730.28,257.1 L730.53,256.0 L730.79,256.1 L731.04,256.7 L731.30,257.0 L731.54,255.8 L731.78,257.7 L732.02,256.0 L732.26,257.0 L732.50,257.2 L732.74,255.0 L732.98,257.0 L733.22,252.2 L733.46,257.8 L733.70,256.0 L733.94,255.4 L734.19,253.4 L734.43,255.9 L734.67,251.8 L734.91,252.8 L735.16,252.2 L735.40,250.0 L735.66,248.3 L735.91,248.2 L736.17,248.9 L736.43,241.9 L736.69,245.3 L736.94,242.8 L737.20,243.0 L737.46,240.7 L737.71,239.7 L737.97,239.5 L738.23,239.4 L738.49,238.6 L738.74,236.7 L739.00,236.0 L739.24,235.4 L739.49,238.7 L739.73,238.3 L739.97,239.9 L740.21,240.8 L740.46,240.4 L740.70,242.0 L740.94,239.9 L741.19,243.4 L741.43,245.0 L741.67,245.4 L741.91,250.5 L742.16,249.5 L742.40,251.0 L742.66,249.6 L742.91,250.8 L743.17,250.0 L743.43,246.8 L743.69,242.9 L743.94,246.2 L744.20,245.5 L744.46,244.0 L744.71,242.8 L744.97,243.5 L745.23,240.7 L745.49,236.7 L745.74,240.7 L746.00,237.3 L746.24,235.5 L746.49,241.0 L746.73,242.4 L746.97,243.3 L747.21,242.9 L747.46,245.5 L747.70,246.6 L747.98,249.8 L748.25,246.6 L748.52,246.6 L748.80,245.5 L749.04,248.5 L749.28,249.4 L749.52,255.9 L749.76,259.9 L750.00,260.6 L750.26,259.8 L750.51,255.0 L750.77,255.4 L751.02,253.3 L751.28,251.8 L751.53,248.1 L751.79,245.7 L752.04,245.0 L752.30,243.0 L752.54,251.6 L752.78,250.9 L753.02,255.1 L753.26,259.4 L753.50,263.0 L753.76,262.7 L754.01,259.8 L754.27,263.5 L754.52,259.2 L754.78,258.3 L755.03,255.0 L755.29,256.1 L755.54,255.2 L755.80,254.8 L756.06,251.9 L756.31,252.9 L756.57,254.7 L756.82,251.1 L757.08,250.6 L757.33,251.8 L757.59,251.1 L757.84,251.6 L758.10,249.0 L758.34,253.6 L758.58,250.4 L758.81,249.4 L759.05,251.0 L759.29,251.4 L759.52,252.0 L759.76,253.2 L760.00,252.5 L760.27,251.9 L760.53,250.8 L760.80,249.0 L761.07,246.6 L761.33,246.8 L761.60,244.3 L761.84,247.3 L762.08,246.4 L762.32,251.8 L762.56,256.3 L762.80,258.3 L763.06,255.5 L763.31,256.5 L763.57,255.4 L763.83,254.8 L764.09,255.1 L764.34,249.2 L764.60,251.3 L764.84,252.4 L765.09,251.1 L765.33,251.6 L765.57,255.5 L765.81,255.3 L766.06,256.2 L766.30,256.0 L766.56,256.2 L766.81,253.3 L767.07,254.1 L767.32,252.9 L767.58,251.5 L767.83,248.9 L768.09,250.6 L768.34,247.7 L768.60,246.6 L768.84,246.0 L769.08,239.9 L769.32,237.1 L769.56,236.5 L769.80,231.5 L770.04,229.4 L770.28,234.3 L770.52,238.9 L770.76,237.2 L771.00,239.6 L771.24,240.1 L771.49,242.2 L771.73,244.0 L771.97,245.8 L772.21,242.9 L772.46,246.1 L772.70,246.6 L772.96,247.6 L773.21,245.2 L773.47,246.6 L773.73,244.1 L773.99,244.4 L774.24,240.5 L774.50,243.0 L774.77,241.1 L775.05,240.6 L775.33,235.8 L775.60,236.0 L775.86,237.1 L776.11,240.1 L776.37,243.1 L776.63,239.0 L776.89,244.8 L777.14,247.8 L777.40,250.0 L777.64,250.7 L777.89,250.8 L778.13,248.5 L778.37,250.8 L778.61,248.1 L778.86,249.4 L779.10,249.0 L779.34,249.9 L779.58,245.7 L779.81,245.4 L780.05,244.5 L780.29,240.2 L780.52,240.9 L780.76,237.9 L781.00,238.5 L781.27,239.7 L781.53,239.6 L781.80,243.7 L782.07,244.1 L782.33,242.4 L782.60,244.3 L782.84,247.3 L783.08,244.8 L783.32,246.5 L783.56,245.8 L783.80,246.6 L784.06,244.1 L784.31,243.8 L784.57,242.4 L784.83,240.5 L785.09,243.1 L785.34,241.8 L785.60,237.3 L785.84,236.2 L786.09,237.8 L786.33,243.2 L786.57,240.5 L786.81,238.9 L787.06,244.3 L787.30,242.0 L787.54,240.2 L787.79,236.7 L788.03,238.1 L788.27,238.5 L788.51,232.4 L788.76,235.9 L789.00,228.2 L789.24,229.2 L789.48,237.2 L789.72,222.0 L789.96,227.8 L790.20,221.9 L790.46,224.0 L790.71,220.6 L790.97,237.5 L791.23,217.2 L791.49,218.8 L791.74,230.5 L792.00,217.6 L792.27,224.9 L792.55,220.5 L792.83,214.1 L793.10,232.1 L793.34,221.2 L793.58,223.7 L793.82,234.3 L794.06,234.8 L794.30,229.2 L794.53,219.1 L794.77,225.8 L795.00,234.0 L795.25,234.9 L795.50,216.5 L795.75,206.3 L796.00,221.3 L796.25,234.4 L796.50,232.9 L796.75,216.1 L797.00,210.8 L797.25,205.9 L797.50,227.9 L797.75,230.1 L798.00,225.9 L798.25,229.4 L798.50,227.1 L798.75,223.8 L799.00,214.4 L799.25,210.2 L799.50,230.2 L799.75,234.0 L800.00,213.5 L800.25,211.8 L800.50,212.7 L800.75,224.2 L801.00,210.3 L801.25,211.4 L801.50,205.9 L801.75,219.7 L802.00,229.4 L802.25,222.5 L802.50,222.0 L802.75,210.4 L803.00,217.8 L803.25,209.9 L803.50,205.1 L803.75,215.3 L804.00,222.9 L804.25,211.4 L804.50,215.6 L804.75,218.7 L805.00,221.5 L805.25,210.8 L805.50,220.9 L805.75,219.4 L806.00,221.8 L806.25,209.3 L806.50,217.7 L806.75,217.5 L807.00,208.3 L807.25,213.6 L807.50,168.0 L807.75,220.3 L808.00,207.8 L808.25,216.2 L808.50,209.0 L808.75,188.6 L809.00,206.2 L809.25,218.3 L809.50,217.8 L809.75,206.5 L810.00,223.6 L810.25,211.7 L810.50,215.8 L810.75,219.1 L811.00,232.6 L811.25,235.2 L811.50,240.6 L811.75,241.8 L812.00,238.5 L812.25,246.2 L812.50,230.0 L812.75,259.0 L813.00,218.2 L813.25,223.3 L813.50,221.7 L813.75,219.1 L814.00,251.0 L814.25,228.2 L814.50,226.6 L814.75,232.3 L815.00,242.1 L815.25,227.8 L815.50,228.5 L815.75,238.2 L816.00,231.8 L816.25,225.2 L816.50,238.7 L816.75,232.6 L817.00,240.5 L817.25,223.1 L817.50,225.3 L817.75,212.4 L818.00,227.8 L818.25,212.2 L818.50,214.9 L818.75,213.4 L819.00,234.0 L819.25,230.6 L819.50,233.4 L819.75,228.3 L820.00,236.3 L820.25,209.6 L820.50,216.3 L820.75,228.3 L821.00,234.3 L821.25,223.8 L821.50,230.3 L821.75,223.9 L822.00,230.4 L822.25,213.7 L822.50,222.7 L822.75,229.9 L823.00,211.1 L823.25,198.3 L823.50,200.2 L823.75,212.5 L824.00,214.4 L824.25,212.8 L824.50,219.8 L824.75,209.9 L825.00,220.5 L825.25,223.7 L825.50,224.4 L825.75,218.5 L826.00,199.6 L826.25,210.0 L826.50,203.5 L826.75,195.7 L827.00,196.7 L827.25,202.6 L827.50,194.3 L827.75,189.4 L828.00,218.3 L828.25,222.3 L828.50,211.3 L828.75,193.1 L829.00,161.5 L829.25,184.6 L829.50,190.9 L829.75,206.2 L830.00,177.7 L830.25,176.0 L830.50,195.5 L830.75,206.5 L831.00,165.0 L831.25,196.3 L831.50,198.4 L831.75,187.1 L832.00,191.7 L832.25,186.9 L832.50,180.5 L832.75,182.0 L833.00,196.5 L833.25,194.9 L833.50,202.3 L833.75,193.0 L834.00,193.6 L834.25,193.1 L834.50,190.7 L834.75,193.9 L835.00,179.4 L835.26,187.1 L835.51,189.7 L835.77,190.4 L836.02,180.1 L836.28,180.0 L836.53,179.7 L836.79,181.7 L837.04,179.8 L837.30,177.5 L837.55,177.2 L837.80,176.1 L838.05,175.1 L838.30,178.8 L838.55,176.0 L838.80,173.6 L839.05,174.8 L839.30,175.6 L839.55,174.6 L839.80,173.7 L840.05,174.7 L840.30,172.0 L840.55,173.0 L840.80,171.7 L841.04,176.1 L841.28,180.9 L841.52,187.0 L841.76,191.0 L842.00,196.0 L842.24,193.8 L842.48,191.4 L842.72,186.2 L842.96,185.9 L843.20,183.0 L843.46,183.2 L843.71,181.4 L843.97,181.9 L844.22,180.2 L844.48,181.4 L844.73,180.6 L844.99,181.9 L845.24,181.1 L845.50,181.0 L845.76,180.5 L846.01,180.1 L846.27,178.2 L846.52,180.7 L846.78,177.3 L847.03,181.2 L847.29,178.8 L847.54,179.2 L847.80,177.5 L848.06,177.6 L848.31,175.0 L848.57,176.2 L848.83,172.0 L849.09,169.8 L849.34,171.7 L849.60,169.3 L849.84,172.1 L850.08,170.7 L850.32,169.4 L850.56,169.9 L850.80,170.7 L851.04,172.9 L851.28,170.4 L851.52,173.3 L851.76,173.6 L852.00,174.0 L852.25,177.8 L852.50,178.0 L852.75,180.1 L853.00,181.0 L853.26,182.0 L853.52,184.5 L853.78,185.7 L854.04,189.3 L854.30,190.0 L854.53,199.4 L854.77,203.3 L855.00,208.0 L855.27,208.3 L855.53,199.5 L855.80,200.3 L856.07,199.5 L856.33,194.8 L856.60,194.0 L856.84,196.3 L857.09,196.6 L857.33,203.9 L857.57,202.6 L857.81,201.9 L858.06,209.6 L858.30,211.0 L858.54,209.6 L858.79,212.7 L859.03,213.2 L859.27,212.6 L859.51,214.6 L859.76,215.0 L860.00,215.0 L860.26,214.3 L860.52,218.6 L860.78,221.5 L861.04,222.0 L861.30,223.0 L861.54,217.8 L861.79,221.6 L862.03,221.2 L862.27,217.8 L862.51,221.7 L862.76,219.1 L863.00,218.0 L863.26,218.9 L863.51,219.3 L863.77,218.8 L864.03,223.5 L864.29,227.8 L864.54,224.5 L864.80,226.5 L865.04,227.2 L865.29,223.6 L865.53,223.0 L865.77,223.2 L866.01,217.1 L866.26,215.2 L866.50,215.0 L866.76,216.4 L867.01,216.2 L867.27,215.3 L867.52,215.5 L867.78,218.6 L868.03,216.9 L868.29,218.8 L868.54,216.9 L868.80,217.0 L869.04,213.2 L869.28,209.0 L869.52,210.5 L869.76,204.6 L870.00,202.0 L870.24,203.9 L870.48,203.3 L870.72,207.2 L870.96,206.9 L871.20,208.0 L871.45,206.0 L871.71,206.3 L871.96,204.7 L872.22,204.4 L872.47,204.2 L872.73,200.0 L872.98,201.6 L873.24,200.1 L873.49,197.9 L873.75,196.4 L874.00,197.0 L874.26,197.4 L874.51,199.9 L874.77,198.8 L875.03,199.6 L875.29,203.5 L875.54,201.6 L875.80,204.0 L876.04,203.2 L876.28,202.3 L876.52,202.2 L876.76,203.2 L877.00,204.9 L877.24,204.4 L877.48,206.7 L877.72,202.9 L877.96,206.3 L878.20,203.0 L878.46,205.1 L878.71,203.1 L878.97,202.8 L879.23,202.5 L879.49,202.5 L879.74,203.3 L880.00,203.0 L880.26,202.8 L880.51,203.5 L880.77,200.6 L881.02,201.0 L881.28,198.2 L881.53,198.7 L881.79,199.8 L882.04,198.7 L882.30,197.0 L882.54,198.5 L882.79,198.9 L883.03,200.6 L883.27,200.0 L883.51,199.6 L883.76,201.0 L884.00,201.0 L884.26,203.3 L884.51,203.3 L884.77,202.9 L885.03,205.1 L885.29,205.8 L885.54,205.2 L885.80,206.7 L886.04,207.1 L886.29,203.7 L886.53,203.9 L886.77,205.7 L887.01,203.2 L887.26,204.6 L887.50,201.0 L887.76,199.3 L888.01,198.1 L888.27,200.0 L888.52,199.6 L888.78,194.0 L889.03,194.7 L889.29,197.3 L889.54,198.6 L889.80,195.0 L890.06,194.3 L890.31,195.2 L890.57,192.7 L890.83,190.9 L891.09,192.6 L891.34,189.6 L891.60,190.0 L891.84,190.7 L892.08,191.7 L892.32,190.8 L892.56,191.2 L892.80,191.5 L893.03,191.5 L893.27,191.1 L893.50,191.5 L893.8,596.8 Z" fill="#cefbf5"/>
<polyline points="94.00,473.0 94.30,486.0 94.54,485.7 94.79,484.1 95.03,481.3 95.27,481.0 95.51,479.1 95.76,476.0 96.00,477.0 96.25,478.1 96.50,477.9 96.75,478.7 97.00,481.0 97.25,483.1 97.50,481.5 97.75,481.4 98.00,483.0 98.25,484.5 98.50,486.3 98.75,490.4 99.00,489.3 99.25,492.6 99.50,493.0 99.75,498.5 100.00,498.0 100.25,500.9 100.50,505.1 100.75,511.3 101.00,512.0 101.25,506.0 101.50,504.8 101.75,498.5 102.00,489.0 102.25,493.1 102.50,492.6 102.75,491.6 103.00,494.2 103.25,498.5 103.50,499.0 103.75,500.2 104.00,499.4 104.25,498.9 104.50,499.5 104.75,501.8 105.00,501.0 105.25,500.6 105.50,497.8 105.75,499.7 106.00,500.1 106.25,503.1 106.50,498.6 106.75,500.1 107.00,500.0 107.25,500.1 107.50,499.0 107.75,496.5 108.00,500.7 108.25,496.7 108.50,497.0 108.75,492.6 109.00,490.3 109.25,486.9 109.50,485.4 109.75,481.2 110.00,480.0 110.25,477.4 110.50,476.1 110.75,475.6 111.00,473.0 111.25,473.2 111.50,476.5 111.75,477.4 112.00,476.9 112.25,480.5 112.50,480.0 112.75,479.8 113.00,482.0 113.25,478.9 113.50,482.3 113.75,483.3 114.00,482.9 114.25,482.6 114.50,484.0 114.75,483.9 115.00,480.6 115.25,478.4 115.50,478.4 115.75,477.8 116.00,476.0 116.25,475.0 116.50,477.2 116.75,476.8 117.00,479.9 117.25,477.2 117.50,477.3 117.75,476.0 118.00,477.0 118.25,475.1 118.50,475.9 118.75,477.0 119.00,480.1 119.25,478.9 119.50,478.1 119.75,479.0 120.00,479.0 120.25,478.6 120.50,480.3 120.75,480.5 121.00,480.1 121.25,481.1 121.50,479.9 121.75,482.2 122.00,482.0 122.25,482.5 122.50,482.0 122.75,484.3 123.00,485.0 123.25,483.5 123.50,486.0 123.75,489.8 124.00,487.6 124.25,488.2 124.50,490.0 124.75,490.3 125.00,490.0 125.25,492.0 125.50,492.1 125.75,491.4 126.00,493.0 126.25,495.6 126.50,492.9 126.75,492.9 127.00,493.6 127.25,494.5 127.50,495.9 127.75,494.4 128.00,495.0 128.25,494.0 128.50,496.0 128.75,495.5 129.00,497.4 129.25,497.8 129.50,497.6 129.75,495.3 130.00,498.0 130.25,500.0 130.50,499.8 130.75,500.3 131.00,502.0 131.25,504.2 131.50,504.5 131.75,507.1 132.00,508.0 132.25,509.4 132.50,510.4 132.75,513.2 133.00,512.9 133.25,515.9 133.50,515.6 133.75,515.8 134.00,520.0 134.25,518.2 134.50,516.8 134.75,515.0 135.00,513.4 135.25,512.2 135.50,512.9 135.75,505.3 136.00,508.0 136.25,509.2 136.50,511.1 136.75,510.9 137.00,515.6 137.25,513.7 137.50,514.8 137.75,514.4 138.00,515.7 138.25,517.0 138.50,516.4 138.75,518.2 139.00,520.0 139.25,517.5 139.50,515.8 139.75,513.4 140.00,510.4 140.25,508.2 140.50,506.9 140.75,503.6 141.00,503.0 141.25,502.4 141.50,505.1 141.75,505.3 142.00,508.0 142.25,510.1 142.50,508.4 142.75,507.8 143.00,510.8 143.25,510.8 143.50,510.1 143.75,511.6 144.00,512.0 144.25,511.2 144.50,512.3 144.75,514.1 145.00,513.7 145.25,517.3 145.50,515.1 145.75,516.6 146.00,516.8 146.25,515.5 146.50,516.9 146.75,519.3 147.00,518.0 147.25,521.0 147.50,519.1 147.75,519.9 148.00,519.5 148.25,520.2 148.50,522.0 148.75,523.7 149.00,523.8 149.25,524.0 149.50,525.0 149.75,525.2 150.00,526.0 150.25,531.8 150.50,533.9 150.75,534.9 151.00,538.0 151.25,543.9 151.50,548.9 151.75,553.5 152.00,562.0 152.25,558.2 152.50,553.6 152.75,554.9 153.00,547.4 153.25,542.2 153.50,540.0 153.75,536.2 154.00,532.0 154.25,534.6 154.50,535.0 154.75,536.3 155.00,536.6 155.25,538.5 155.50,540.8 155.75,543.2 156.00,544.0 156.25,543.6 156.50,544.2 156.75,542.0 157.00,543.0 157.25,540.7 157.50,541.8 157.75,538.1 158.00,539.2 158.25,538.3 158.50,534.3 158.75,537.1 159.00,536.0 159.25,534.6 159.50,532.9 159.75,535.0 160.00,530.6 160.25,534.7 160.50,531.2 160.75,530.3 161.00,529.3 161.25,529.0 161.50,527.4 161.75,528.8 162.00,526.0 162.25,525.5 162.50,525.3 162.75,530.3 163.00,526.4 163.25,530.9 163.50,530.9 163.75,531.6 164.00,532.2 164.25,535.0 164.50,535.8 164.75,533.2 165.00,536.0 165.25,537.6 165.50,537.7 165.75,536.5 166.00,540.7 166.25,539.1 166.50,542.2 166.75,542.8 167.00,541.0 167.25,545.6 167.50,544.7 167.75,543.5 168.00,546.0 168.25,545.0 168.50,545.1 168.75,543.0 169.00,543.7 169.25,544.5 169.50,544.4 169.75,544.6 170.00,539.7 170.25,542.7 170.50,542.0 170.75,540.6 171.00,541.6 171.25,541.0 171.50,540.3 171.75,539.4 172.00,540.0 172.25,539.7 172.50,541.0 172.75,541.3 173.00,540.3 173.25,540.8 173.50,539.2 173.75,542.1 174.00,541.1 174.25,543.2 174.50,542.0 174.75,541.3 175.00,543.6 175.25,543.0 175.50,541.7 175.75,542.0 176.00,543.9 176.25,543.3 176.50,543.2 176.75,543.2 177.00,542.7 177.25,545.6 177.50,541.4 177.75,543.8 178.00,544.0 178.25,542.1 178.50,545.1 178.75,542.0 179.00,541.3 179.25,539.7 179.50,540.7 179.75,542.1 180.00,540.1 180.25,539.8 180.50,539.2 180.75,536.1 181.00,538.4 181.25,538.6 181.50,537.4 181.75,536.6 182.00,536.0 182.25,532.6 182.50,535.4 182.75,532.5 183.00,532.4 183.25,529.8 183.50,529.6 183.75,529.7 184.00,525.6 184.25,529.8 184.50,525.5 184.75,524.7 185.00,524.0 185.25,525.0 185.50,525.1 185.75,525.7 186.00,524.6 186.25,526.7 186.50,528.1 186.75,528.9 187.00,528.1 187.25,529.0 187.50,528.5 187.75,527.3 188.00,529.0 188.25,530.5 188.50,529.6 188.75,531.9 189.00,532.2 189.25,533.2 189.50,533.5 189.75,534.0 190.00,535.7 190.25,535.4 190.50,535.8 190.75,537.1 191.00,538.0 191.25,539.1 191.50,539.8 191.75,541.5 192.00,540.0 192.25,543.5 192.50,546.5 192.75,546.9 193.00,548.0 193.25,549.0 193.50,545.1 193.75,546.1 194.00,545.3 194.25,544.4 194.50,543.6 194.75,541.6 195.00,542.0 195.25,538.8 195.50,542.3 195.75,542.6 196.00,541.3 196.25,542.0 196.50,542.6 196.75,539.8 197.00,541.9 197.25,542.3 197.50,541.4 197.75,541.8 198.00,542.7 198.25,540.8 198.50,541.3 198.75,541.8 199.00,542.0 199.25,542.4 199.50,540.3 199.75,539.3 200.00,541.6 200.25,539.2 200.50,538.5 200.75,537.8 201.00,538.6 201.25,537.7 201.50,538.1 201.75,536.4 202.00,534.9 202.25,536.2 202.50,532.4 202.75,532.7 203.00,534.0 203.25,530.9 203.50,528.9 203.75,531.2 204.00,525.9 204.25,526.8 204.50,526.2 204.75,525.8 205.00,522.0 205.25,518.2 205.50,515.6 205.75,510.4 206.00,506.0 206.25,507.5 206.50,509.7 206.75,511.1 207.00,512.5 207.25,514.2 207.50,514.4 207.75,516.7 208.00,520.0 208.25,520.6 208.50,518.4 208.75,518.1 209.00,518.8 209.25,517.2 209.50,517.9 209.75,515.1 210.00,516.0 210.25,514.9 210.50,511.7 210.75,511.6 211.00,508.9 211.25,509.0 211.50,506.6 211.75,505.1 212.00,503.2 212.25,503.5 212.50,500.7 212.75,500.7 213.00,498.0 213.25,498.9 213.50,495.8 213.75,498.3 214.00,498.2 214.25,497.7 214.50,499.1 214.75,499.6 215.00,497.4 215.25,497.9 215.50,501.5 215.75,498.9 216.00,500.0 216.25,500.8 216.50,501.2 216.75,505.3 217.00,504.2 217.25,504.1 217.50,505.8 217.75,507.4 218.00,508.3 218.25,508.4 218.50,511.2 218.75,507.5 219.00,512.0 219.25,512.5 219.50,511.3 219.75,509.8 220.00,510.9 220.25,510.9 220.50,510.9 220.75,510.0 221.00,510.1 221.25,508.2 221.50,508.5 221.75,509.6 222.00,508.0 222.25,506.3 222.50,507.0 222.75,507.3 223.00,507.2 223.25,503.3 223.50,506.2 223.75,506.8 224.00,504.9 224.25,504.0 224.50,505.0 224.75,504.8 225.00,502.8 225.25,502.9 225.50,503.3 225.75,501.7 226.00,502.0 226.25,503.5 226.50,503.7 226.75,503.3 227.00,502.6 227.25,504.0 227.50,502.3 227.75,502.6 228.00,504.3 228.25,503.3 228.50,502.8 228.75,504.3 229.00,504.5 229.25,504.1 229.50,503.7 229.75,504.5 230.00,504.0 230.25,502.7 230.50,505.2 230.75,503.5 231.00,503.5 231.25,504.2 231.50,504.0 231.75,502.6 232.00,507.2 232.25,502.4 232.50,504.1 232.75,504.2 233.00,503.2 233.25,502.0 233.50,501.3 233.75,504.4 234.00,502.0 234.25,501.7 234.50,501.1 234.75,500.5 235.00,501.1 235.25,501.4 235.50,500.1 235.75,498.9 236.00,499.9 236.25,499.7 236.50,501.4 236.75,500.2 237.00,498.6 237.25,499.9 237.50,497.5 237.75,498.2 238.00,498.0 238.25,497.9 238.50,498.1 238.75,499.6 239.00,499.4 239.25,498.2 239.50,498.1 239.75,498.3 240.00,498.7 240.25,497.7 240.50,498.3 240.75,498.4 241.00,500.5 241.25,498.2 241.50,500.4 241.75,499.3 242.00,501.1 242.25,500.6 242.50,500.4 242.75,499.3 243.00,500.0 243.25,497.6 243.50,497.5 243.75,492.1 244.00,493.0 244.25,490.9 244.50,489.7 244.75,485.6 245.00,484.0 245.25,481.5 245.50,480.2 245.75,477.6 246.00,474.3 246.25,471.7 246.50,468.9 246.75,465.5 247.00,465.0 247.25,465.5 247.50,469.2 247.75,468.1 248.00,470.4 248.25,472.2 248.50,473.9 248.75,474.7 249.00,476.0 249.25,476.0 249.50,473.9 249.75,476.6 250.00,473.6 250.25,474.1 250.50,475.6 250.75,476.4 251.00,474.6 251.25,471.7 251.50,473.2 251.75,472.3 252.00,473.0 252.25,474.2 252.50,476.5 252.75,476.2 253.00,476.7 253.25,479.5 253.50,478.3 253.75,479.7 254.00,482.0 254.25,484.3 254.50,483.0 254.75,483.5 255.00,486.0 255.25,487.5 255.50,484.0 255.75,486.9 256.00,483.3 256.25,484.8 256.50,486.2 256.75,483.3 257.00,484.4 257.25,483.1 257.50,481.9 257.75,483.7 258.00,482.0 258.25,482.9 258.50,480.8 258.75,480.9 259.00,480.5 259.25,481.5 259.50,482.8 259.75,480.4 260.00,480.0 260.25,480.4 260.50,480.2 260.75,479.2 261.00,480.3 261.25,479.0 261.50,480.8 261.75,481.1 262.00,479.0 262.25,479.6 262.50,479.1 262.75,477.5 263.00,479.7 263.25,478.7 263.50,476.8 263.75,478.7 264.00,475.9 264.25,478.7 264.50,478.8 264.75,479.6 265.00,479.2 265.25,476.3 265.50,478.4 265.75,478.3 266.00,478.0 266.25,478.4 266.50,477.3 266.75,478.8 267.00,477.6 267.25,478.8 267.50,477.9 267.75,475.2 268.00,473.8 268.25,477.0 268.50,477.8 268.75,475.1 269.00,477.6 269.25,476.3 269.50,474.2 269.75,471.6 270.00,474.0 270.25,473.4 270.50,471.6 270.75,470.7 271.00,468.6 271.25,471.3 271.50,468.7 271.75,468.8 272.00,468.0 272.25,467.4 272.50,469.6 272.75,467.3 273.00,467.2 273.25,468.2 273.50,469.4 273.75,467.9 274.00,464.4 274.25,468.3 274.50,467.8 274.75,465.9 275.00,464.9 275.25,466.1 275.50,466.8 275.75,466.8 276.00,464.9 276.25,465.8 276.50,468.7 276.75,466.8 277.00,465.6 277.25,466.5 277.50,466.4 277.75,465.4 278.00,465.0 278.25,463.0 278.50,465.7 278.75,464.2 279.00,464.2 279.25,464.5 279.50,464.6 279.75,464.2 280.00,462.9 280.25,463.3 280.50,461.1 280.75,460.2 281.00,462.0 281.25,461.7 281.50,459.4 281.75,457.3 282.00,456.7 282.25,455.0 282.50,454.1 282.75,449.9 283.00,450.0 283.25,450.6 283.50,453.6 283.75,454.3 284.00,455.5 284.25,457.5 284.50,460.7 284.75,459.6 285.00,462.0 285.25,460.0 285.50,461.4 285.75,458.5 286.00,458.6 286.25,459.6 286.50,461.0 286.75,457.7 287.00,456.2 287.25,458.8 287.50,458.1 287.75,458.0 288.00,456.0 288.25,454.3 288.50,453.4 288.75,453.7 289.00,450.5 289.25,447.9 289.50,448.9 289.75,447.8 290.00,446.0 290.25,445.5 290.50,446.6 290.75,444.6 291.00,440.2 291.25,440.9 291.50,442.6 291.75,441.2 292.00,441.2 292.25,439.7 292.50,439.3 292.75,437.3 293.00,439.2 293.25,437.3 293.50,435.0 293.75,436.4 294.00,434.3 294.25,435.7 294.50,434.1 294.75,434.1 295.00,432.0 295.25,432.7 295.50,435.3 295.75,435.1 296.00,435.7 296.25,439.6 296.50,438.7 296.75,440.9 297.00,441.7 297.25,444.0 297.50,444.3 297.75,446.9 298.00,448.0 298.25,448.0 298.50,445.9 298.75,445.5 299.00,445.0 299.25,447.3 299.50,441.9 299.75,443.2 300.00,441.9 300.25,441.8 300.50,441.5 300.75,439.5 301.00,441.7 301.25,439.5 301.50,439.3 301.75,439.0 302.00,438.0 302.25,438.0 302.50,437.1 302.75,436.4 303.00,433.8 303.25,432.9 303.50,433.4 303.75,432.5 304.00,429.5 304.25,430.5 304.50,429.8 304.75,427.4 305.00,428.0 305.25,428.6 305.50,424.1 305.75,420.3 306.00,419.3 306.25,418.3 306.50,413.7 306.75,413.9 307.00,414.2 307.25,410.1 307.50,406.3 307.75,406.0 308.00,404.0 308.25,402.0 308.50,401.3 308.75,400.1 309.00,398.7 309.25,396.4 309.50,394.7 309.75,390.0 310.00,387.6 310.25,388.7 310.50,388.8 310.75,385.3 311.00,382.7 311.25,381.2 311.50,381.4 311.75,378.6 312.00,378.0 312.25,379.4 312.50,377.8 312.75,381.8 313.00,380.8 313.25,380.4 313.50,381.6 313.75,382.7 314.00,383.4 314.25,384.1 314.50,383.9 314.75,385.6 315.00,385.0 315.25,385.3 315.50,386.4 315.75,390.1 316.00,388.0 316.25,391.0 316.50,390.7 316.75,391.1 317.00,393.3 317.25,394.5 317.50,395.8 317.75,397.2 318.00,399.4 318.25,402.4 318.50,400.5 318.75,403.1 319.00,404.0 319.25,401.9 319.50,396.6 319.75,394.8 320.00,392.4 320.25,389.5 320.50,385.9 320.75,382.7 321.00,380.0 321.25,378.7 321.50,376.1 321.75,375.1 322.00,372.2 322.25,369.9 322.50,364.0 322.75,365.4 323.00,363.4 323.25,362.8 323.50,359.8 323.75,357.1 324.00,356.0 324.25,355.6 324.50,355.3 324.75,353.4 325.00,351.2 325.25,352.6 325.50,350.5 325.75,348.5 326.00,350.0 326.25,346.9 326.50,347.8 326.75,346.8 327.00,346.0 327.25,347.4 327.50,350.9 327.75,352.5 328.00,354.8 328.25,355.2 328.50,356.3 328.75,360.3 329.00,361.8 329.25,363.4 329.50,369.1 329.75,369.7 330.00,370.0 330.25,367.2 330.50,362.8 330.75,358.1 331.00,356.0 331.25,356.5 331.50,355.5 331.75,353.7 332.00,353.7 332.25,350.8 332.50,351.1 332.75,352.1 333.00,349.0 333.25,347.6 333.50,348.5 333.75,346.4 334.00,346.0 334.25,345.5 334.50,341.2 334.75,340.8 335.00,340.9 335.25,337.3 335.50,336.4 335.75,332.1 336.00,332.0 336.25,330.1 336.50,331.4 336.75,329.0 337.00,329.4 337.25,328.4 337.50,327.2 337.75,325.5 338.00,325.5 338.25,325.9 338.50,323.9 338.75,323.7 339.00,324.8 339.25,323.9 339.50,321.1 339.75,321.0 340.00,320.0 340.25,318.4 340.50,318.8 340.75,314.8 341.00,315.7 341.25,312.8 341.50,310.1 341.75,308.3 342.00,305.0 342.25,306.1 342.50,304.6 342.75,301.7 343.00,300.0 343.25,297.7 343.50,294.6 343.75,294.0 344.00,290.2 344.25,285.2 344.50,284.1 344.75,284.3 345.00,280.0 345.25,276.6 345.50,273.3 345.75,271.4 346.00,270.0 346.25,267.0 346.50,260.7 346.75,258.9 347.00,256.0 347.25,258.6 347.50,259.8 347.75,263.6 348.00,264.8 348.25,267.5 348.50,270.3 348.75,271.0 349.00,274.0 349.25,272.6 349.50,271.8 349.75,270.2 350.00,267.7 350.25,265.9 350.50,264.1 350.75,265.2 351.00,262.0 351.25,263.2 351.50,266.6 351.75,268.4 352.00,269.9 352.25,272.4 352.50,275.5 352.75,275.7 353.00,278.0 353.25,277.8 353.50,280.3 353.75,281.6 354.00,281.0 354.25,286.4 354.50,284.3 354.75,287.4 355.00,288.0 355.25,293.1 355.50,297.6 355.75,299.8 356.00,302.4 356.25,304.3 356.50,310.5 356.75,312.4 357.00,316.0 357.25,313.6 357.50,308.7 357.75,302.3 358.00,301.7 358.25,299.3 358.50,295.0 358.75,293.0 359.00,288.0 359.25,291.8 359.50,288.5 359.75,289.2 360.00,288.9 360.25,291.7 360.50,288.9 360.75,290.4 361.00,290.0 361.25,294.6 361.50,291.4 361.75,296.0 362.00,297.6 362.25,299.7 362.50,301.9 362.75,303.4 363.00,304.7 363.25,306.0 363.50,307.3 363.75,309.4 364.00,312.0 364.25,312.9 364.50,313.6 364.75,314.6 365.00,317.0 365.25,316.1 365.50,316.7 365.75,316.2 366.00,317.7 366.25,317.4 366.50,320.3 366.75,319.7 367.00,320.0 367.25,321.6 367.50,314.7 367.75,315.0 368.00,310.0 368.25,307.5 368.50,306.7 368.75,303.8 369.00,302.0 369.25,302.3 369.50,302.0 369.75,302.2 370.00,301.1 370.25,301.9 370.50,300.7 370.75,298.9 371.00,299.8 371.25,300.2 371.50,300.3 371.75,301.1 372.00,300.0 372.25,301.7 372.50,302.4 372.75,301.0 373.00,300.8 373.25,303.6 373.50,304.7 373.75,306.8 374.00,304.4 374.25,306.5 374.50,306.9 374.75,307.0 375.00,310.0 375.25,311.3 375.50,310.4 375.75,311.2 376.00,311.6 376.25,310.6 376.50,314.0 376.75,313.3 377.00,313.5 377.25,312.2 377.50,312.5 377.75,312.0 378.00,314.0 378.25,315.4 378.50,317.2 378.75,319.1 379.00,320.7 379.25,319.7 379.50,320.8 379.75,321.3 380.00,324.0 380.25,323.9 380.50,326.1 380.75,327.4 381.00,328.0 381.25,326.9 381.50,326.9 381.75,326.8 382.00,324.8 382.25,324.3 382.50,325.9 382.75,324.4 383.00,324.6 383.25,323.8 383.50,323.0 383.75,322.3 384.00,322.0 384.25,321.6 384.50,320.5 384.75,320.3 385.00,318.8 385.25,315.2 385.50,316.7 385.75,317.2 386.00,317.0 386.25,314.1 386.50,313.0 386.75,314.8 387.00,313.6 387.25,311.8 387.50,313.3 387.75,310.4 388.00,310.0 388.25,310.8 388.50,314.3 388.75,316.5 389.00,317.6 389.25,321.9 389.50,322.7 389.75,325.1 390.00,326.0 390.25,325.2 390.50,322.9 390.75,324.5 391.00,325.6 391.25,322.8 391.50,321.4 391.75,324.8 392.00,322.3 392.25,321.5 392.50,321.3 392.75,322.1 393.00,319.9 393.25,319.8 393.50,318.9 393.75,321.8 394.00,320.1 394.25,319.1 394.50,320.1 394.75,317.5 395.00,318.0 395.25,318.4 395.50,319.4 395.75,320.3 396.00,320.0 396.25,322.6 396.50,325.4 396.75,324.6 397.00,325.0 397.25,325.0 397.50,324.8 397.75,325.4 398.00,325.3 398.25,326.2 398.50,326.4 398.75,323.8 399.00,324.0 399.25,323.3 399.50,323.5 399.75,325.4 400.00,324.2 400.25,323.6 400.50,324.0 400.75,324.0 401.00,323.7 401.25,324.4 401.50,323.5 401.75,326.6 402.00,325.9 402.25,323.5 402.50,325.8 402.75,324.7 403.00,329.2 403.25,325.6 403.50,326.3 403.75,329.0 404.00,327.0 404.25,327.0 404.50,327.2 404.75,325.7 405.00,326.3 405.25,326.0 405.50,326.1 405.75,325.8 406.00,327.2 406.25,328.1 406.50,326.8 406.75,324.2 407.00,325.0 407.25,325.3 407.50,330.0 407.75,331.6 408.00,334.2 408.25,335.5 408.50,339.0 408.75,341.4 409.00,343.0 409.27,344.5 409.53,345.9 409.80,349.3 410.07,350.8 410.33,354.3 410.60,356.0 410.85,356.7 411.09,358.5 411.34,361.2 411.58,362.0 411.83,360.5 412.07,363.9 412.32,364.1 412.56,366.0 412.81,366.7 413.05,367.2 413.30,370.0 413.55,370.6 413.79,366.9 414.04,365.9 414.28,364.9 414.53,362.8 414.77,364.2 415.02,360.0 415.26,360.3 415.51,358.5 415.75,357.3 416.00,356.0 416.25,355.4 416.50,357.5 416.75,357.7 417.00,357.5 417.25,359.1 417.50,359.5 417.75,360.2 418.00,361.7 418.25,361.7 418.50,361.4 418.75,362.6 419.00,363.6 419.24,363.1 419.49,364.7 419.73,367.4 419.98,363.6 420.22,364.0 420.47,364.1 420.71,365.8 420.96,364.3 421.20,365.4 421.44,363.8 421.69,366.1 421.93,365.4 422.18,366.3 422.42,366.4 422.67,366.3 422.91,366.4 423.16,366.8 423.40,367.0 423.66,366.9 423.91,363.0 424.17,365.6 424.43,363.5 424.69,364.2 424.94,363.8 425.20,361.8 425.46,361.1 425.71,359.4 425.97,359.4 426.23,357.0 426.49,357.1 426.74,356.5 427.00,356.0 427.25,356.5 427.50,357.3 427.75,356.7 428.00,357.4 428.25,358.5 428.50,357.6 428.75,358.7 429.00,360.7 429.25,357.4 429.50,358.3 429.75,359.7 430.00,360.0 430.26,359.4 430.52,361.2 430.78,358.5 431.04,357.0 431.30,356.1 431.56,356.9 431.82,357.7 432.08,356.2 432.34,356.1 432.60,354.0 432.86,351.4 433.11,350.9 433.37,347.3 433.63,345.3 433.89,344.4 434.14,339.8 434.40,340.0 434.65,340.3 434.91,339.6 435.16,340.0 435.42,339.3 435.67,338.6 435.93,341.0 436.18,339.4 436.44,337.8 436.69,339.6 436.95,336.6 437.20,338.0 437.46,336.6 437.71,335.5 437.97,336.7 438.23,334.5 438.49,335.0 438.74,334.5 439.00,334.0 439.25,331.4 439.50,331.1 439.75,330.0 440.00,327.8 440.25,328.9 440.50,324.2 440.75,321.6 441.00,321.0 441.26,322.2 441.52,317.5 441.78,318.2 442.04,316.7 442.30,314.9 442.56,312.8 442.82,309.2 443.08,310.1 443.34,309.3 443.60,308.5 443.85,309.9 444.11,309.7 444.36,309.7 444.62,309.9 444.87,308.6 445.13,311.2 445.38,311.7 445.64,310.8 445.89,310.9 446.15,312.9 446.40,312.0 446.66,309.3 446.91,307.2 447.17,305.2 447.43,303.4 447.69,301.1 447.94,297.7 448.20,297.5 448.46,294.1 448.72,289.3 448.98,285.5 449.24,279.1 449.50,276.4 449.75,278.7 450.00,278.0 450.25,281.4 450.50,279.1 450.75,282.6 451.00,282.0 451.25,282.9 451.50,283.9 451.75,280.5 452.00,284.7 452.26,286.1 452.52,288.1 452.78,290.0 453.04,291.6 453.30,291.9 453.56,292.3 453.82,295.6 454.08,297.2 454.34,297.1 454.60,299.0 454.85,298.4 455.11,296.3 455.36,295.8 455.62,294.5 455.87,293.8 456.13,294.2 456.38,291.4 456.64,291.0 456.89,289.2 457.15,287.6 457.40,286.5 457.66,287.7 457.92,288.6 458.18,288.6 458.44,288.8 458.70,292.1 458.96,291.2 459.22,292.0 459.48,292.9 459.74,294.4 460.00,295.0 460.25,296.0 460.50,295.7 460.75,294.8 461.00,296.1 461.25,294.0 461.50,294.2 461.75,294.0 462.00,293.9 462.25,295.1 462.50,293.0 462.75,293.9 463.00,294.0 463.26,296.4 463.52,298.1 463.78,299.6 464.04,300.3 464.30,302.8 464.56,305.2 464.82,306.5 465.08,307.6 465.34,308.3 465.60,310.0 465.85,309.2 466.11,309.1 466.36,308.5 466.62,310.0 466.87,309.0 467.13,309.9 467.38,309.7 467.64,308.3 467.89,308.8 468.15,307.8 468.40,308.5 468.66,309.0 468.92,309.0 469.18,308.6 469.44,310.0 469.70,311.0 469.96,312.0 470.22,312.8 470.48,313.7 470.74,317.7 471.00,315.0 471.25,310.0 471.50,306.6 471.75,303.6 472.00,299.0 472.25,300.5 472.50,300.4 472.75,303.4 473.00,303.8 473.25,305.1 473.50,305.1 473.75,306.3 474.00,309.2 474.25,307.6 474.50,310.8 474.75,310.0 475.00,312.0 475.25,312.7 475.50,313.2 475.75,312.5 476.00,310.8 476.25,313.3 476.50,314.0 476.75,314.5 477.00,313.3 477.25,314.8 477.50,314.9 477.75,314.6 478.00,316.0 478.25,315.0 478.50,318.5 478.75,316.4 479.00,318.2 479.25,319.7 479.50,320.9 479.75,321.7 480.00,321.4 480.25,322.1 480.50,322.9 480.75,323.9 481.00,324.0 481.25,322.2 481.50,323.2 481.75,321.7 482.00,322.9 482.25,320.4 482.50,320.5 482.75,321.4 483.00,318.3 483.25,318.4 483.50,317.6 483.75,315.9 484.00,316.0 484.25,315.1 484.50,314.3 484.75,314.1 485.00,312.0 485.25,310.4 485.50,310.7 485.75,308.1 486.00,307.7 486.25,305.9 486.50,305.8 486.75,305.1 487.00,304.0 487.25,304.9 487.50,303.5 487.75,302.0 488.00,303.9 488.25,301.5 488.50,301.8 488.75,299.0 489.00,300.2 489.25,298.4 489.50,298.4 489.75,296.5 490.00,297.0 490.25,297.4 490.50,294.6 490.75,295.7 491.00,295.0 491.25,294.5 491.50,296.3 491.75,297.3 492.00,298.8 492.25,298.2 492.50,299.3 492.75,298.9 493.00,300.1 493.25,301.7 493.50,302.7 493.75,303.4 494.00,304.0 494.25,306.1 494.50,308.0 494.75,308.0 495.00,309.0 495.25,311.6 495.50,313.8 495.75,314.5 496.00,316.0 496.27,320.8 496.53,323.6 496.80,328.2 497.07,333.8 497.33,334.4 497.60,342.0 497.84,338.7 498.08,338.0 498.32,335.8 498.56,335.1 498.80,333.1 499.04,330.9 499.28,328.5 499.52,326.7 499.76,325.9 500.00,324.0 500.25,323.6 500.50,323.4 500.75,323.2 501.00,323.0 501.25,322.5 501.50,322.9 501.75,321.5 502.00,321.6 502.25,321.3 502.50,321.3 502.75,320.4 503.00,320.0 503.25,317.6 503.50,317.6 503.75,316.6 504.00,314.3 504.25,313.8 504.50,312.0 504.75,310.7 505.00,310.7 505.25,307.1 505.50,305.9 505.75,305.3 506.00,304.0 506.25,306.1 506.50,302.0 506.75,300.7 507.00,299.3 507.25,300.5 507.50,298.8 507.75,299.1 508.00,298.0 508.25,301.2 508.50,298.7 508.75,297.4 509.00,297.5 509.25,299.0 509.50,298.3 509.75,299.6 510.00,299.1 510.25,301.0 510.50,299.4 510.75,298.8 511.00,299.7 511.25,299.0 511.50,300.4 511.75,299.9 512.00,300.0 512.25,299.0 512.50,300.5 512.75,301.5 513.00,301.1 513.25,300.6 513.50,298.8 513.75,300.8 514.00,300.6 514.25,298.9 514.50,299.4 514.75,301.0 515.00,302.0 515.25,300.5 515.50,301.9 515.75,300.8 516.00,301.2 516.25,300.4 516.50,301.8 516.75,301.9 517.00,301.3 517.25,302.4 517.50,302.2 517.75,302.2 518.00,302.0 518.25,301.3 518.50,300.5 518.75,300.0 519.00,298.8 519.25,298.4 519.50,297.2 519.75,298.2 520.00,295.4 520.25,294.9 520.50,295.6 520.75,293.5 521.00,292.4 521.25,291.7 521.50,292.2 521.75,292.5 522.00,290.0 522.25,289.8 522.50,290.2 522.75,288.1 523.00,288.0 523.25,288.5 523.50,291.1 523.75,287.4 524.00,287.9 524.25,285.9 524.50,286.6 524.75,285.4 525.00,284.6 525.25,285.6 525.50,284.7 525.75,284.4 526.00,284.0 526.25,285.4 526.50,285.3 526.75,286.4 527.00,287.2 527.25,288.1 527.50,288.8 527.75,291.6 528.00,293.0 528.25,292.7 528.50,293.9 528.75,295.0 529.00,296.0 529.25,296.9 529.50,296.1 529.75,294.0 530.00,295.2 530.25,295.0 530.50,295.9 530.75,293.6 531.00,297.0 531.25,293.5 531.50,294.6 531.75,293.1 532.00,291.9 532.25,292.2 532.50,292.1 532.75,291.7 533.00,292.0 533.25,292.9 533.50,291.7 533.75,292.4 534.00,293.1 534.25,290.7 534.50,288.8 534.75,291.3 535.00,289.1 535.25,288.8 535.50,289.7 535.75,288.0 536.00,288.0 536.25,286.6 536.50,283.9 536.75,286.5 537.00,283.5 537.25,280.8 537.50,283.6 537.75,280.7 538.00,280.1 538.25,279.1 538.50,278.7 538.75,277.8 539.00,276.0 539.25,274.8 539.50,273.1 539.75,273.0 540.00,267.4 540.25,270.2 540.50,265.8 540.75,268.0 541.00,265.2 541.25,264.5 541.50,262.0 541.75,261.0 542.00,260.0 542.25,259.2 542.50,259.5 542.75,260.0 543.00,257.3 543.25,255.3 543.50,258.1 543.75,257.5 544.00,255.8 544.25,255.2 544.50,257.5 544.75,253.9 545.00,254.0 545.25,254.1 545.50,253.5 545.75,256.4 546.00,256.0 546.25,255.1 546.50,256.3 546.75,256.9 547.00,258.0 547.27,255.9 547.55,252.1 547.83,249.2 548.10,246.4 548.33,243.4 548.57,241.9 548.80,240.4 549.03,237.8 549.27,233.8 549.50,231.7 549.74,228.9 549.98,226.4 550.21,223.6 550.45,222.1 550.69,220.9 550.92,219.0 551.16,217.0 551.40,213.4 551.66,212.8 551.92,208.9 552.18,209.4 552.44,208.6 552.70,207.9 552.93,209.4 553.17,212.2 553.40,214.9 553.63,215.3 553.87,219.1 554.10,220.7 554.34,220.2 554.58,219.6 554.81,217.9 555.05,216.4 555.29,216.7 555.52,215.3 555.76,214.4 556.00,213.4 556.26,212.0 556.51,210.6 556.77,207.7 557.02,207.8 557.28,205.1 557.53,203.7 557.79,202.0 558.04,199.2 558.30,196.9 558.56,196.4 558.81,195.1 559.07,192.5 559.32,191.1 559.58,188.5 559.83,186.7 560.09,187.2 560.34,186.2 560.60,184.0 560.86,185.4 561.11,182.9 561.37,186.7 561.63,186.9 561.89,187.5 562.14,189.5 562.40,189.5 562.66,188.5 562.91,185.6 563.17,187.6 563.43,186.2 563.69,184.9 563.94,183.9 564.20,182.2 564.45,185.1 564.71,182.1 564.96,180.1 565.22,182.5 565.47,183.9 565.73,183.7 565.98,183.2 566.24,181.9 566.49,183.3 566.75,185.1 567.00,184.0 567.25,184.2 567.49,183.4 567.74,183.4 567.98,181.9 568.23,181.8 568.47,179.8 568.72,180.1 568.96,182.1 569.21,178.8 569.45,179.4 569.70,178.5 569.95,180.1 570.20,181.6 570.45,180.4 570.70,182.4 570.95,183.3 571.20,183.6 571.45,186.4 571.70,186.7 571.96,188.1 572.21,186.6 572.47,184.5 572.72,184.2 572.98,185.5 573.23,184.0 573.49,183.9 573.74,182.6 574.00,183.0 574.26,186.0 574.51,190.3 574.77,195.5 575.03,198.0 575.29,200.8 575.54,202.6 575.80,206.7 576.05,209.0 576.30,208.1 576.55,209.5 576.80,208.4 577.05,210.4 577.30,212.2 577.55,210.1 577.80,211.9 578.05,212.8 578.30,213.0 578.55,213.3 578.79,212.6 579.04,210.6 579.28,210.4 579.53,209.9 579.77,213.5 580.02,209.5 580.26,210.2 580.51,208.3 580.75,208.5 581.00,208.0 581.26,208.0 581.51,209.7 581.77,211.3 582.02,213.0 582.28,211.1 582.53,212.8 582.79,214.6 583.04,213.6 583.30,215.0 583.54,214.8 583.79,217.3 584.03,217.5 584.27,217.3 584.51,218.8 584.76,219.6 585.00,220.6 585.24,221.3 585.49,222.3 585.73,221.0 585.97,222.6 586.21,226.1 586.46,225.8 586.70,225.0 586.97,222.5 587.23,219.2 587.50,217.6 587.77,216.6 588.03,213.5 588.30,211.7 588.55,208.9 588.80,209.3 589.05,207.4 589.30,207.4 589.55,204.2 589.80,200.7 590.05,201.7 590.30,201.0 590.55,198.6 590.80,198.0 591.05,197.0 591.30,196.5 591.55,195.2 591.80,196.7 592.05,195.8 592.30,195.6 592.55,194.2 592.80,192.4 593.05,194.3 593.30,193.0 593.55,192.9 593.80,192.9 594.05,192.0 594.30,192.7 594.55,192.5 594.80,192.6 595.05,194.6 595.30,191.0 595.55,191.2 595.80,191.7 596.05,192.9 596.29,193.7 596.54,192.7 596.78,194.5 597.03,196.3 597.28,196.4 597.52,198.4 597.77,197.1 598.02,198.6 598.26,199.3 598.51,200.7 598.75,202.7 599.00,203.0 599.25,199.1 599.49,198.8 599.74,198.8 599.98,197.8 600.23,195.4 600.47,193.7 600.72,192.4 600.96,191.8 601.21,191.4 601.45,189.6 601.70,188.0 601.96,187.4 602.21,184.5 602.47,182.3 602.72,181.2 602.98,179.8 603.23,179.6 603.49,177.6 603.74,175.6 604.00,175.0 604.25,175.8 604.49,176.6 604.74,179.2 604.98,175.8 605.23,178.0 605.47,175.9 605.72,175.0 605.96,178.6 606.21,177.0 606.45,177.4 606.70,178.0 606.97,177.4 607.23,175.2 607.50,178.4 607.77,175.3 608.03,173.7 608.30,173.0 608.55,174.6 608.80,173.6 609.05,177.5 609.30,176.6 609.55,176.7 609.80,177.5 610.05,178.9 610.30,180.0 610.55,181.3 610.80,181.7 611.05,181.9 611.30,182.1 611.55,184.2 611.80,184.5 612.05,187.7 612.30,187.1 612.55,186.9 612.80,191.5 613.05,191.6 613.30,191.7 613.55,192.7 613.80,191.7 614.05,192.9 614.30,192.6 614.55,191.9 614.80,192.7 615.05,191.7 615.30,191.8 615.55,191.8 615.80,193.0 616.05,195.1 616.30,194.0 616.55,194.5 616.80,197.6 617.05,195.6 617.30,197.6 617.55,198.2 617.80,199.1 618.05,200.0 618.30,200.0 618.54,203.3 618.79,202.9 619.03,202.1 619.27,205.8 619.51,204.6 619.76,206.6 620.00,207.6 620.24,208.2 620.49,209.2 620.73,209.6 620.97,210.0 621.21,210.4 621.46,212.5 621.70,213.0 621.96,212.7 622.21,209.1 622.47,210.7 622.72,209.0 622.98,207.5 623.23,207.4 623.49,204.0 623.74,203.1 624.00,201.7 624.25,201.9 624.49,202.2 624.74,204.0 624.98,203.7 625.23,204.7 625.47,205.7 625.72,205.9 625.96,206.9 626.21,207.0 626.45,208.4 626.70,208.0 626.95,207.7 627.21,207.9 627.46,208.3 627.72,206.6 627.97,207.0 628.22,204.9 628.48,203.3 628.73,205.3 628.98,203.8 629.24,204.6 629.49,204.6 629.75,203.9 630.00,203.0 630.25,201.9 630.51,201.7 630.76,202.0 631.02,201.8 631.27,201.0 631.52,201.2 631.78,200.5 632.03,199.4 632.28,198.7 632.54,197.9 632.79,197.6 633.05,197.6 633.30,196.7 633.55,196.9 633.80,197.4 634.05,198.9 634.30,200.3 634.55,200.2 634.80,199.2 635.05,200.6 635.30,201.3 635.55,202.8 635.80,203.0 636.05,202.7 636.29,202.6 636.54,204.2 636.78,205.6 637.03,206.6 637.28,206.4 637.52,207.4 637.77,206.8 638.02,209.2 638.26,207.1 638.51,208.9 638.75,209.5 639.00,210.0 639.26,213.8 639.51,214.4 639.77,216.3 640.03,219.4 640.29,223.0 640.54,224.6 640.80,226.7 641.05,225.7 641.30,226.7 641.55,226.2 641.80,225.4 642.05,226.5 642.30,223.9 642.55,223.9 642.80,225.1 643.05,221.8 643.30,223.0 643.55,223.7 643.80,223.7 644.05,224.6 644.30,223.2 644.55,224.5 644.80,224.8 645.05,224.7 645.30,225.2 645.55,224.2 645.80,225.0 646.04,227.7 646.29,232.7 646.53,234.8 646.78,238.1 647.02,241.2 647.27,243.2 647.51,248.2 647.76,250.0 648.00,254.0 648.25,251.9 648.50,252.6 648.75,251.3 649.00,253.1 649.25,250.1 649.50,252.1 649.75,252.1 650.00,251.1 650.25,251.7 650.50,250.7 650.75,248.1 651.00,250.0 651.25,249.6 651.50,248.2 651.75,249.4 652.00,247.3 652.25,245.1 652.50,247.4 652.75,247.0 653.00,245.8 653.25,244.9 653.50,244.8 653.75,243.7 654.00,246.4 654.25,243.8 654.50,242.6 654.75,241.7 655.00,242.0 655.25,241.2 655.50,241.4 655.75,242.0 656.00,240.7 656.25,240.8 656.50,241.9 656.75,241.8 657.00,241.6 657.25,239.2 657.50,239.0 657.75,241.6 658.00,240.0 658.25,240.0 658.50,241.0 658.75,243.5 659.00,243.1 659.25,243.6 659.50,244.9 659.75,244.9 660.00,246.5 660.25,247.2 660.50,247.2 660.75,248.0 661.00,246.1 661.25,249.8 661.50,251.3 661.75,251.4 662.00,252.0 662.25,251.7 662.50,252.5 662.75,251.7 663.00,250.6 663.25,254.0 663.50,252.9 663.75,256.0 664.00,252.0 664.25,252.9 664.50,251.5 664.75,254.2 665.00,252.9 665.25,253.8 665.50,253.6 665.75,253.9 666.00,254.0 666.25,254.5 666.50,254.0 666.75,253.9 667.00,254.3 667.25,255.0 667.50,254.7 667.75,254.0 668.00,253.9 668.25,255.1 668.50,253.1 668.75,254.3 669.00,255.6 669.25,254.3 669.50,253.9 669.75,252.4 670.00,254.0 670.25,253.2 670.50,253.6 670.75,253.0 671.00,252.3 671.25,252.5 671.50,252.4 671.75,251.1 672.00,250.1 672.25,250.2 672.50,248.5 672.75,252.4 673.00,250.0 673.25,253.8 673.50,253.1 673.75,253.7 674.00,254.0 674.25,254.0 674.50,257.0 674.75,257.6 675.00,260.2 675.25,262.0 675.50,261.1 675.75,262.3 676.00,264.0 676.25,263.5 676.50,261.6 676.75,264.3 677.00,264.5 677.25,262.2 677.50,264.3 677.75,263.1 678.00,263.5 678.25,263.2 678.50,262.6 678.75,262.9 679.00,262.7 679.25,261.7 679.50,263.2 679.75,262.1 680.00,262.0 680.25,261.6 680.50,261.4 680.75,260.8 681.00,261.1 681.25,260.5 681.50,262.3 681.75,262.3 682.00,263.7 682.25,261.5 682.50,263.0 682.75,261.6 683.00,260.5 683.25,264.1 683.50,262.1 683.75,262.6 684.00,262.9 684.25,263.9 684.50,259.7 684.75,262.3 685.00,262.0 685.25,261.1 685.50,259.0 685.75,257.1 686.00,257.7 686.25,253.1 686.50,252.3 686.75,249.1 687.00,248.2 687.25,247.8 687.50,244.8 687.75,242.9 688.00,242.0 688.25,241.1 688.50,239.3 688.75,241.2 689.00,240.4 689.25,238.4 689.50,241.4 689.75,241.2 690.00,241.2 690.25,242.1 690.50,239.0 690.75,238.7 691.00,240.0 691.25,239.2 691.50,238.1 691.75,238.3 692.00,237.5 692.25,238.6 692.50,238.8 692.75,239.2 693.00,239.3 693.25,238.4 693.50,238.8 693.75,239.3 694.00,238.0 694.25,238.7 694.50,240.9 694.75,240.9 695.00,243.8 695.25,246.4 695.50,243.6 695.75,247.5 696.00,243.7 696.25,247.2 696.50,247.1 696.75,248.3 697.00,250.0 697.25,244.2 697.50,240.6 697.75,236.4 698.00,232.0 698.25,232.3 698.50,232.2 698.75,231.5 699.00,232.7 699.25,229.0 699.50,231.3 699.75,230.3 700.00,229.8 700.25,230.0 700.50,231.3 700.75,226.4 701.00,228.0 701.25,228.1 701.50,225.5 701.75,227.7 702.00,227.3 702.25,224.8 702.50,227.4 702.75,228.5 703.00,226.7 703.25,227.3 703.50,226.3 703.75,227.6 704.00,226.0 704.25,225.9 704.50,226.0 704.75,225.3 705.00,226.2 705.25,228.1 705.50,228.1 705.75,227.9 706.00,228.1 706.25,229.0 706.50,230.4 706.75,229.6 707.00,230.0 707.25,229.4 707.50,231.1 707.75,230.2 708.00,231.3 708.25,230.1 708.50,232.8 708.75,232.2 709.00,232.6 709.25,232.8 709.50,231.4 709.75,230.2 710.00,232.6 710.25,232.8 710.50,232.4 710.75,235.2 711.00,233.8 711.25,234.0 711.50,232.2 711.75,233.6 712.00,234.0 712.25,234.3 712.50,234.2 712.75,233.8 713.00,233.3 713.25,233.5 713.50,233.5 713.75,231.3 714.00,233.0 714.25,232.7 714.50,233.5 714.75,233.4 715.00,232.7 715.24,232.2 715.49,229.9 715.73,227.7 715.97,228.8 716.21,227.0 716.46,222.2 716.70,223.3 716.95,222.4 717.20,224.4 717.45,223.2 717.70,223.4 717.95,224.9 718.20,222.5 718.45,220.9 718.70,223.9 718.95,223.5 719.20,222.6 719.45,222.1 719.70,222.7 719.96,222.5 720.21,223.3 720.47,224.5 720.72,224.8 720.98,224.0 721.23,227.6 721.49,227.6 721.74,226.0 722.00,226.8 722.25,227.5 722.50,226.1 722.75,225.7 723.00,227.4 723.25,226.1 723.50,225.8 723.75,229.1 724.00,227.3 724.25,227.0 724.50,227.4 724.75,228.5 725.00,226.8 725.24,226.6 725.49,228.1 725.73,228.3 725.97,231.7 726.21,229.5 726.46,233.2 726.70,233.8 726.94,233.9 727.18,234.7 727.43,234.1 727.67,234.0 727.91,235.8 728.15,236.9 728.39,236.2 728.63,235.9 728.88,234.2 729.12,235.1 729.36,236.4 729.60,236.2 729.84,236.8 730.08,236.1 730.32,236.4 730.56,234.7 730.80,234.7 731.04,232.7 731.28,235.3 731.52,232.9 731.76,234.0 732.00,232.7 732.24,233.7 732.49,233.0 732.73,232.7 732.98,233.8 733.22,229.8 733.47,231.4 733.71,230.9 733.96,231.1 734.20,230.3 734.44,230.0 734.68,230.6 734.92,229.6 735.16,232.9 735.40,231.1 735.64,232.3 735.88,230.5 736.12,232.5 736.36,231.8 736.60,231.5 736.84,228.7 737.09,227.3 737.33,226.1 737.57,223.5 737.81,220.6 738.06,217.8 738.30,217.5 738.54,216.7 738.79,217.5 739.03,215.3 739.27,216.7 739.51,216.2 739.76,213.0 740.00,215.2 740.26,212.5 740.51,211.8 740.77,213.0 741.03,214.5 741.29,212.2 741.54,212.3 741.80,211.7 742.04,211.4 742.28,211.5 742.52,212.0 742.76,209.7 743.00,209.4 743.24,211.0 743.48,211.7 743.72,211.0 743.96,210.0 744.20,210.5 744.46,210.4 744.71,208.7 744.97,205.9 745.23,205.3 745.49,205.7 745.74,204.0 746.00,203.5 746.24,203.9 746.49,202.4 746.73,202.8 746.98,203.1 747.22,203.1 747.47,201.4 747.71,202.4 747.96,202.2 748.20,201.2 748.45,201.0 748.70,202.0 748.95,199.6 749.20,201.0 749.45,201.2 749.70,201.8 749.95,202.0 750.20,201.7 750.45,201.9 750.70,201.2 750.95,202.0 751.20,201.2 751.46,203.1 751.71,203.0 751.97,199.9 752.22,202.0 752.48,200.0 752.73,203.3 752.99,201.9 753.24,202.2 753.50,202.3 753.74,203.8 753.99,204.5 754.23,205.0 754.47,204.4 754.71,206.7 754.96,207.8 755.20,208.2 755.46,208.9 755.71,207.1 755.97,207.3 756.23,205.3 756.49,204.7 756.74,203.1 757.00,202.3 757.24,202.3 757.49,202.5 757.73,201.2 757.97,203.7 758.21,200.6 758.46,200.1 758.70,200.0 759.00,190.0 759.25,190.1 759.50,187.8 759.75,187.4 760.00,186.2 760.25,183.8 760.50,184.0 760.75,180.9 761.00,180.0 761.25,180.7 761.50,178.0 761.75,177.6 762.00,176.0 762.25,174.5 762.50,174.4 762.75,173.0 763.00,172.1 763.25,170.6 763.50,170.8 763.75,170.4 764.00,168.0 764.25,168.2 764.50,168.1 764.75,170.8 765.00,169.6 765.25,168.1 765.50,167.2 765.75,168.5 766.00,170.9 766.25,168.0 766.50,171.6 766.75,170.8 767.00,169.6 767.25,170.1 767.50,167.2 767.75,170.8 768.00,172.0 768.25,172.9 768.50,173.6 768.75,173.4 769.00,173.7 769.25,173.5 769.50,174.0 769.75,174.2 770.00,174.9 770.25,176.4 770.50,175.3 770.75,176.0 771.00,175.7 771.25,178.8 771.50,177.4 771.75,177.0 772.00,178.0 772.25,177.4 772.50,177.5 772.75,176.0 773.00,176.9 773.25,177.6 773.50,175.2 773.75,174.6 774.00,173.6 774.25,173.6 774.50,174.9 774.75,173.7 775.00,173.8 775.25,171.7 775.50,173.7 775.75,172.5 776.00,172.0 776.25,171.7 776.50,170.7 776.75,171.0 777.00,171.8 777.25,173.2 777.50,170.4 777.75,170.1 778.00,169.0 778.25,169.0 778.50,170.2 778.75,170.6 779.00,170.0 779.25,169.5 779.50,169.7 779.75,171.0 780.00,171.4 780.25,172.2 780.50,171.2 780.75,171.4 781.00,175.3 781.25,172.7 781.50,173.3 781.75,176.3 782.00,176.0 782.25,175.1 782.50,177.1 782.75,178.8 783.00,179.6 783.25,178.8 783.50,179.8 783.75,180.8 784.00,180.3 784.25,182.1 784.50,182.5 784.75,183.8 785.00,184.0 785.25,181.7 785.50,182.1 785.75,182.5 786.00,181.5 786.25,178.7 786.50,179.6 786.75,175.2 787.00,173.0 787.25,176.8 787.50,174.7 787.75,175.0 788.00,174.0 788.25,175.4 788.50,175.6 788.75,176.4 789.00,177.6 789.25,179.7 789.50,181.2 789.75,181.3 790.00,181.8 790.25,184.4 790.50,183.2 790.75,184.3 791.00,186.0 791.25,186.0 791.50,184.8 791.75,184.1 792.00,183.3 792.25,183.0 792.50,181.5 792.75,181.6 793.00,181.0 793.25,179.5 793.50,179.3 793.75,180.5 794.00,178.0 794.25,177.6 794.50,180.9 794.75,181.3 795.00,180.7 795.25,179.5 795.50,183.8 795.75,182.5 796.00,182.3 796.25,185.2 796.50,184.1 796.75,185.7 797.00,186.0 797.25,187.2 797.50,182.8 797.75,184.0 798.00,183.2 798.25,184.2 798.50,181.8 798.75,178.3 799.00,180.0 799.25,178.2 799.50,179.7 799.75,179.2 800.00,178.0 800.25,178.2 800.50,177.1 800.75,178.9 801.00,178.8 801.25,177.2 801.50,176.0 801.75,178.8 802.00,178.9 802.25,178.3 802.50,176.9 802.75,178.6 803.00,178.0 803.25,175.6 803.50,177.2 803.75,175.4 804.00,176.3 804.25,176.7 804.50,171.9 804.75,174.8 805.00,175.6 805.25,172.7 805.50,171.5 805.75,172.0 806.00,172.0 806.25,170.9 806.50,169.3 806.75,166.8 807.00,165.3 807.25,163.5 807.50,162.1 807.75,161.6 808.00,160.0 808.25,159.4 808.50,158.0 808.75,156.4 809.00,157.3 809.25,155.7 809.50,154.2 809.75,152.3 810.00,152.0 810.25,151.4 810.50,151.1 810.75,150.1 811.00,147.4 811.25,149.0 811.50,148.9 811.75,148.2 812.00,148.0 812.25,147.4 812.50,146.6 812.75,148.1 813.00,147.7 813.25,147.2 813.50,147.5 813.75,146.4 814.00,145.5 814.25,147.7 814.50,146.9 814.75,146.2 815.00,146.9 815.25,147.2 815.50,146.7 815.75,146.6 816.00,146.0 816.25,147.5 816.50,147.0 816.75,145.2 817.00,145.4 817.25,146.2 817.50,144.9 817.75,147.0 818.00,144.2 818.25,143.7 818.50,143.4 818.75,144.8 819.00,144.9 819.25,145.1 819.50,144.6 819.75,144.6 820.00,144.0 820.25,144.5 820.50,144.5 820.75,145.0 821.00,144.5 821.25,146.0 821.50,146.0 821.75,146.6 822.00,147.4 822.25,146.5 822.50,148.3 822.75,147.5 823.00,148.0 823.25,148.8 823.50,148.1 823.75,148.9 824.00,148.5 824.25,151.2 824.50,149.2 824.75,150.6 825.00,149.7 825.25,148.4 825.50,150.0 825.75,151.4 826.00,150.0 826.25,150.8 826.50,148.1 826.75,150.0 827.00,149.5 827.25,152.9 827.50,153.2 827.75,153.2 828.00,152.4 828.25,152.4 828.50,152.2 828.75,153.3 829.00,154.2 829.25,153.9 829.50,154.3 829.75,152.0 830.00,155.0 830.26,152.8 830.51,155.7 830.77,153.9 831.02,155.9 831.28,155.5 831.53,156.5 831.79,159.1 832.04,157.6 832.30,158.5 832.55,160.0 832.80,159.1 833.05,159.1 833.30,159.9 833.55,158.3 833.80,161.0 834.05,160.8 834.30,161.2 834.55,162.1 834.80,161.4 835.05,162.0 835.30,163.0 835.54,162.3 835.79,161.2 836.03,160.4 836.27,160.8 836.51,160.1 836.76,158.5 837.00,157.3 837.26,156.7 837.51,153.5 837.77,156.4 838.02,155.4 838.28,154.0 838.53,154.1 838.79,153.9 839.04,151.5 839.30,151.5 839.54,152.8 839.78,149.4 840.02,149.7 840.26,150.8 840.50,149.7 840.74,151.0 840.98,148.1 841.22,147.9 841.46,147.9 841.70,146.8 841.96,144.9 842.21,145.5 842.47,147.2 842.72,144.8 842.98,144.3 843.23,143.3 843.49,143.5 843.74,142.0 844.00,141.0 844.26,141.7 844.51,142.2 844.77,143.3 845.02,140.8 845.28,144.1 845.53,141.8 845.79,142.9 846.04,145.4 846.30,143.3 846.55,143.3 846.80,143.3 847.05,144.9 847.30,142.4 847.55,143.5 847.80,144.7 848.05,144.8 848.30,145.1 848.55,145.3 848.80,146.1 849.05,146.8 849.30,146.8 849.54,145.7 849.79,144.4 850.03,144.6 850.27,147.4 850.51,143.7 850.76,144.8 851.00,143.3 851.26,140.8 851.51,141.4 851.77,140.3 852.02,140.8 852.28,138.7 852.53,138.3 852.79,139.0 853.04,136.6 853.30,136.3 853.55,136.2 853.80,136.7 854.05,136.2 854.30,137.1 854.55,137.0 854.80,139.0 855.05,136.7 855.30,137.2 855.55,137.3 855.80,135.9 856.05,137.3 856.30,137.5 856.56,136.9 856.81,139.0 857.07,136.6 857.32,138.1 857.58,138.2 857.83,135.4 858.09,133.1 858.34,133.4 858.60,135.0 858.84,134.9 859.08,136.2 859.33,135.9 859.57,138.1 859.81,135.5 860.05,137.4 860.29,136.5 860.53,138.4 860.77,141.1 861.02,141.4 861.26,139.6 861.50,141.0 861.76,140.5 862.01,140.7 862.27,140.7 862.52,139.2 862.78,139.8 863.03,138.2 863.29,137.0 863.54,136.4 863.80,137.5 864.04,137.0 864.28,138.5 864.52,138.8 864.76,138.1 865.00,138.1 865.24,139.5 865.48,139.5 865.72,140.2 865.96,141.4 866.20,140.0 866.46,140.0 866.71,138.6 866.97,137.7 867.22,136.2 867.48,136.3 867.73,135.4 867.99,134.1 868.24,132.7 868.50,132.8 868.76,133.1 869.01,133.7 869.27,135.6 869.53,133.9 869.79,136.7 870.04,138.1 870.30,138.7 870.54,137.3 870.78,138.9 871.02,138.5 871.27,138.8 871.51,139.6 871.75,141.8 871.99,138.3 872.23,140.4 872.48,139.6 872.72,139.7 872.96,139.1 873.20,140.0 873.46,139.6 873.71,143.2 873.97,143.4 874.22,143.4 874.48,144.5 874.73,145.3 874.99,146.2 875.24,146.2 875.50,148.0 875.76,148.8 876.01,151.4 876.27,152.3 876.53,153.6 876.79,155.0 877.04,155.1 877.30,157.3 877.56,155.2 877.81,155.5 878.07,155.5 878.32,154.4 878.58,153.3 878.83,154.6 879.09,152.3 879.34,152.9 879.60,152.7 879.84,154.4 880.08,154.6 880.32,153.7 880.56,154.4 880.80,154.8 881.04,154.1 881.28,154.2 881.52,155.1 881.76,154.2 882.00,156.0 882.26,155.2 882.51,155.7 882.77,154.0 883.02,155.8 883.28,154.9 883.53,154.2 883.79,153.1 884.04,153.8 884.30,152.7 884.54,152.2 884.78,154.0 885.02,152.5 885.27,152.4 885.51,153.4 885.75,151.7 885.99,151.1 886.23,151.7 886.48,150.2 886.72,149.7 886.96,153.6 887.20,150.3 887.46,149.3 887.71,153.3 887.97,153.3 888.23,152.8 888.49,153.5 888.74,154.2 889.00,155.0 889.24,156.4 889.49,157.7 889.73,159.2 889.97,158.5 890.21,161.7 890.46,163.6 890.70,164.3 890.98,167.6 891.25,171.6 891.52,172.4 891.80,175.0 892.06,175.4 892.31,172.3 892.57,171.8 892.83,173.8 893.09,174.1 893.34,172.5 893.60,172.5" fill="none" stroke="#eaac73" stroke-width="1.9" stroke-linejoin="round" opacity="0.72"/>
<polyline points="94.00,2.5 94.25,2.2 94.50,1.3 94.75,5.6 95.00,3.9 95.25,1.3 95.50,1.3 95.75,2.4 96.00,2.7 96.25,4.4 96.50,2.7 96.75,1.3 97.00,2.0 97.25,1.3 97.50,1.3 97.75,2.2 98.00,1.3 98.25,4.0 98.50,3.5 98.75,1.3 99.00,3.2 99.25,5.2 99.50,2.8 99.75,2.4 100.00,2.5 100.25,2.8 100.50,1.4 100.75,4.6 101.00,1.8 101.25,3.6 101.50,2.6 101.75,2.3 102.00,1.3 102.25,1.3 102.50,3.2 102.75,1.6 103.00,1.5 103.25,4.8 103.50,1.8 103.75,2.6 104.00,1.4 104.25,1.3 104.50,1.6 104.75,3.3 105.00,3.0 105.25,5.8 105.50,3.6 105.75,4.3 106.00,4.2 106.25,2.5 106.50,1.3 106.75,1.8 107.00,1.3 107.25,1.3 107.50,1.3 107.75,1.3 108.00,2.0 108.25,1.5 108.50,2.8 108.75,2.5 109.00,3.7 109.25,5.4 109.50,1.3 109.75,2.7 110.00,2.5 110.25,1.3 110.50,3.9 110.75,2.0 111.00,2.1 111.25,3.2 111.50,1.3 111.75,2.8 112.00,3.4 112.25,1.4 112.50,2.3 112.75,2.8 113.00,1.5 113.25,1.3 113.50,2.1 113.75,1.3 114.00,1.6 114.25,2.6 114.50,3.2 114.75,1.3 115.00,3.0 115.25,3.4 115.50,3.1 115.75,1.3 116.00,6.0 116.25,4.0 116.50,3.3 116.75,3.6 117.00,1.3 117.25,2.0 117.50,1.3 117.75,2.5 118.00,2.0 118.25,2.5 118.50,3.4 118.75,3.8 119.00,1.3 119.25,3.4 119.50,1.3 119.75,5.1 120.00,2.5 120.25,1.3 120.50,2.4 120.75,2.5 121.00,1.9 121.25,1.3 121.50,1.3 121.75,1.3 122.00,2.0 122.25,1.7 122.50,1.3 122.75,1.3 123.00,1.6 123.25,2.3 123.50,2.9 123.75,3.5 124.00,3.0 124.25,2.4 124.50,4.7 124.75,3.2 125.00,5.0 125.25,6.2 125.50,6.3 125.75,8.5 126.00,10.0 126.25,10.8 126.50,6.2 126.75,7.0 127.00,6.0 127.25,5.3 127.50,8.4 127.75,5.0 128.00,6.0 128.25,7.2 128.50,4.5 128.75,7.3 129.00,9.6 129.25,12.8 129.50,7.4 129.75,7.9 130.00,8.0 130.25,8.8 130.50,8.4 130.75,9.0 131.00,8.9 131.25,9.5 131.50,10.4 131.75,8.4 132.00,10.5 132.25,10.9 132.50,10.5 132.75,9.2 133.00,9.4 133.25,6.2 133.50,8.0 133.75,4.9 134.00,8.0 134.25,5.2 134.50,6.9 134.75,8.7 135.00,7.5 135.25,4.9 135.50,8.4 135.75,8.4 136.00,9.6 136.25,7.6 136.50,8.4 136.75,5.5 137.00,3.9 137.25,7.6 137.50,10.9 137.75,4.9 138.00,7.0 138.25,6.3 138.50,5.0 138.75,7.6 139.00,9.4 139.25,10.1 139.50,7.3 139.75,7.9 140.00,6.5 140.25,6.3 140.50,9.3 140.75,6.7 141.00,9.5 141.25,7.8 141.50,6.8 141.75,10.2 142.00,6.1 142.25,3.8 142.50,8.4 142.75,7.7 143.00,7.0 143.25,6.3 143.50,8.0 143.75,11.2 144.00,7.2 144.25,6.5 144.50,8.0 144.75,5.3 145.00,7.0 145.25,8.2 145.50,4.7 145.75,5.0 146.00,4.6 146.25,6.8 146.50,7.6 146.75,6.9 147.00,4.6 147.25,6.0 147.50,5.8 147.75,6.8 148.00,6.0 148.25,8.6 148.50,5.1 148.75,6.8 149.00,3.0 149.25,5.0 149.50,6.6 149.75,4.6 150.00,6.0 150.25,2.7 150.50,1.3 150.75,2.5 151.00,7.0 151.25,6.0 151.50,5.6 151.75,8.8 152.00,8.0 152.25,12.0 152.50,5.9 152.75,7.8 153.00,8.1 153.25,7.0 153.50,7.5 153.75,6.0 154.00,6.5 154.25,5.9 154.50,6.4 154.75,7.0 155.00,6.5 155.25,5.9 155.50,4.1 155.75,6.1 156.00,7.3 156.25,5.4 156.50,5.7 156.75,6.7 157.00,6.3 157.25,6.9 157.50,5.8 157.75,6.4 158.00,6.0 158.25,7.0 158.50,6.6 158.75,4.6 159.00,6.5 159.25,5.5 159.50,4.0 159.75,5.3 160.00,6.0 160.25,6.0 160.50,7.1 160.75,5.7 161.00,6.9 161.25,10.1 161.50,7.8 161.75,6.0 162.00,7.0 162.25,8.7 162.50,7.3 162.75,8.0 163.00,3.3 163.25,9.1 163.50,6.6 163.75,8.6 164.00,8.8 164.25,7.2 164.50,9.1 164.75,7.7 165.00,8.5 165.25,7.4 165.50,12.5 165.75,8.5 166.00,9.8 166.25,8.1 166.50,6.0 166.75,3.1 167.00,6.0 167.25,4.0 167.50,2.4 167.75,1.3 168.00,1.3 168.25,1.3 168.50,3.5 168.75,4.6 169.00,5.0 169.25,5.3 169.50,4.8 169.75,4.5 170.00,4.0 170.25,3.5 170.50,8.1 170.75,4.0 171.00,2.7 171.25,5.3 171.50,2.2 171.75,3.8 172.00,3.3 172.25,7.9 172.50,4.1 172.75,4.4 173.00,4.5 173.25,4.5 173.50,4.0 173.75,6.2 174.00,3.3 174.25,3.3 174.50,4.6 174.75,4.0 175.00,4.4 175.25,4.2 175.50,3.9 175.75,3.4 176.00,4.0 176.25,2.1 176.50,5.8 176.75,3.8 177.00,3.6 177.25,4.7 177.50,4.8 177.75,5.4 178.00,5.0 178.25,7.9 178.50,6.0 178.75,7.2 179.00,4.6 179.25,5.9 179.50,5.2 179.75,5.3 180.00,6.0 180.25,5.1 180.50,3.8 180.75,6.5 181.00,5.1 181.25,5.0 181.50,4.9 181.75,5.4 182.00,5.4 182.25,2.3 182.50,3.2 182.75,3.3 183.00,5.0 183.25,5.5 183.50,5.5 183.75,7.9 184.00,5.7 184.25,4.2 184.50,2.6 184.75,8.5 185.00,6.0 185.25,7.3 185.50,6.2 185.75,8.3 186.00,1.6 186.25,6.6 186.50,5.5 186.75,4.9 187.00,4.1 187.25,7.1 187.50,7.0 187.75,2.8 188.00,5.5 188.25,9.9 188.50,4.5 188.75,4.9 189.00,4.5 189.25,5.2 189.50,5.6 189.75,5.0 190.00,5.0 190.25,7.9 190.50,1.3 190.75,3.5 191.00,5.0 191.25,11.1 191.50,14.0 191.75,11.5 192.00,5.0 192.25,2.4 192.50,5.4 192.75,5.4 193.00,6.4 193.25,4.2 193.50,6.8 193.75,1.4 194.00,4.3 194.25,4.1 194.50,3.9 194.75,5.1 195.00,4.5 195.25,4.2 195.50,4.6 195.75,4.2 196.00,4.4 196.25,3.6 196.50,3.4 196.75,1.6 197.00,4.4 197.25,1.3 197.50,4.2 197.75,5.3 198.00,4.0 198.25,4.9 198.50,4.7 198.75,4.9 199.00,5.2 199.25,5.1 199.50,4.6 199.75,5.0 200.00,4.5 200.25,4.1 200.50,4.4 200.75,5.5 201.00,1.3 201.25,3.5 201.50,3.5 201.75,7.7 202.00,3.4 202.25,3.4 202.50,3.0 202.75,2.1 203.00,3.5 203.25,3.0 203.50,2.4 203.75,2.7 204.00,3.0 204.25,3.3 204.50,3.3 204.75,4.9 205.00,3.0 205.25,1.6 205.50,4.0 205.75,3.3 206.00,1.3 206.25,2.6 206.50,3.5 206.75,1.3 207.00,2.4 207.25,1.3 207.50,1.6 207.75,4.7 208.00,2.5 208.25,4.0 208.50,2.6 208.75,5.5 209.00,2.2 209.25,3.7 209.50,4.4 209.75,3.6 210.00,3.0 210.25,1.4 210.50,2.5 210.75,1.4 211.00,5.0 211.25,1.9 211.50,6.2 211.75,1.8 212.00,4.3 212.25,4.4 212.50,1.7 212.75,4.4 213.00,2.0 213.25,1.3 213.50,1.3 213.75,1.3 214.00,1.9 214.25,5.2 214.50,2.8 214.75,1.3 215.00,2.5 215.25,4.2 215.50,2.7 215.75,4.2 216.00,2.8 216.25,2.0 216.50,1.8 216.75,1.3 217.00,1.9 217.25,4.1 217.50,5.3 217.75,2.0 218.00,3.0 218.25,2.3 218.50,3.5 218.75,6.8 219.00,5.3 219.25,3.4 219.50,1.7 219.75,2.3 220.00,3.5 220.25,5.5 220.50,5.8 220.75,4.6 221.00,5.4 221.25,4.4 221.50,3.5 221.75,6.8 222.00,6.5 222.25,5.5 222.50,8.3 222.75,5.8 223.00,5.5 223.25,5.7 223.50,8.3 223.75,6.0 224.00,3.6 224.25,6.1 224.50,5.1 224.75,5.0 225.00,6.0 225.25,7.6 225.50,6.0 225.75,5.1 226.00,6.6 226.25,7.7 226.50,6.1 226.75,6.6 227.00,3.7 227.25,8.8 227.50,7.3 227.75,7.6 228.00,7.0 228.25,2.9 228.50,7.0 228.75,7.0 229.00,9.8 229.25,10.3 229.50,7.5 229.75,8.0 230.00,9.0 230.25,9.6 230.50,12.5 230.75,9.8 231.00,11.0 231.25,10.5 231.50,8.2 231.75,5.8 232.00,4.0 232.25,3.8 232.50,1.3 232.75,1.3 233.00,2.0 233.25,2.9 233.50,1.8 233.75,2.6 234.00,1.3 234.25,3.7 234.50,2.1 234.75,1.9 235.00,3.5 235.25,3.1 235.50,1.3 235.75,4.4 236.00,4.4 236.25,4.7 236.50,3.6 236.75,1.9 237.00,3.6 237.25,5.0 237.50,2.3 237.75,3.1 238.00,3.0 238.25,3.7 238.50,1.3 238.75,2.5 239.00,2.5 239.25,3.6 239.50,4.9 239.75,1.3 240.00,3.0 240.25,1.3 240.50,2.0 240.75,3.1 241.00,3.4 241.25,3.9 241.50,9.0 241.75,2.1 242.00,4.7 242.25,2.1 242.50,1.3 242.75,3.2 243.00,4.0 243.25,3.7 243.50,6.2 243.75,6.5 244.00,5.9 244.25,6.5 244.50,6.9 244.75,7.6 245.00,9.0 245.25,9.6 245.50,10.4 245.75,4.7 246.00,9.2 246.25,12.6 246.50,8.5 246.75,7.5 247.00,9.0 247.25,13.4 247.50,18.0 247.75,5.3 248.00,1.3 248.25,3.4 248.50,5.2 248.75,8.1 249.00,5.0 249.25,6.4 249.50,7.2 249.75,10.2 250.00,9.0 250.25,7.7 250.50,8.3 250.75,8.9 251.00,9.0 251.25,11.4 251.50,14.1 251.75,14.9 252.00,18.0 252.25,17.2 252.50,20.7 252.75,22.5 253.00,26.0 253.25,26.8 253.50,25.8 253.75,23.6 254.00,23.0 254.25,23.5 254.50,22.0 254.75,21.6 255.00,21.0 255.25,16.5 255.50,12.0 255.75,17.4 256.00,21.0 256.25,20.1 256.50,20.0 256.75,21.6 257.00,21.2 257.25,21.8 257.50,21.2 257.75,22.0 258.00,22.0 258.25,22.3 258.50,21.0 258.75,23.2 259.00,23.2 259.25,22.5 259.50,22.2 259.75,24.2 260.00,24.0 260.25,24.0 260.50,23.8 260.75,26.5 261.00,26.0 261.25,21.6 261.50,22.3 261.75,21.8 262.00,21.0 262.25,20.6 262.50,20.9 262.75,20.4 263.00,20.3 263.25,18.8 263.50,19.9 263.75,18.1 264.00,18.0 264.25,14.9 264.50,13.0 264.75,16.3 265.00,19.0 265.25,19.0 265.50,19.0 265.75,18.3 266.00,19.1 266.25,16.0 266.50,17.7 266.75,19.3 267.00,18.6 267.25,19.4 267.50,18.6 267.75,17.3 268.00,18.0 268.25,16.9 268.50,17.5 268.75,16.2 269.00,15.4 269.25,16.3 269.50,17.9 269.75,17.9 270.00,16.0 270.25,15.4 270.50,11.8 270.75,13.3 271.00,12.0 271.25,10.6 271.50,9.6 271.75,9.4 272.00,8.0 272.25,12.4 272.50,7.5 272.75,12.1 273.00,14.0 273.25,11.5 273.50,13.7 273.75,14.4 274.00,15.0 274.25,14.5 274.50,16.0 274.75,13.4 275.00,15.5 275.25,17.1 275.50,14.0 275.75,14.7 276.00,14.5 276.25,16.1 276.50,15.6 276.75,14.9 277.00,15.0 277.25,14.9 277.50,16.1 277.75,13.8 278.00,12.3 278.25,15.7 278.50,13.5 278.75,13.0 279.00,12.1 279.25,12.7 279.50,12.2 279.75,12.5 280.00,12.5 280.25,15.8 280.50,18.3 280.75,23.0 281.00,25.0 281.25,29.4 281.50,21.3 281.75,21.3 282.00,20.9 282.25,20.0 282.50,20.0 282.74,23.3 282.98,22.4 283.21,27.2 283.45,27.1 283.69,26.8 283.92,30.3 284.16,29.8 284.40,32.0 284.70,26.7 285.00,22.5 285.25,21.7 285.50,24.3 285.75,25.5 286.00,21.4 286.25,25.7 286.50,28.2 286.75,26.1 287.00,24.2 287.25,26.7 287.50,26.0 287.75,26.0 288.00,25.2 288.25,24.9 288.50,26.1 288.75,24.0 289.00,24.9 289.25,22.7 289.50,25.4 289.75,23.5 290.00,22.5 290.25,18.1 290.50,23.2 290.75,23.2 291.00,24.2 291.25,20.3 291.50,23.6 291.75,23.2 292.00,22.5 292.25,21.3 292.50,21.5 292.75,18.6 293.00,19.6 293.25,22.7 293.50,16.2 293.75,22.1 294.00,17.5 294.25,18.6 294.50,16.2 294.75,20.7 295.00,22.5 295.25,21.0 295.50,28.3 295.75,31.4 296.00,34.0 296.25,37.3 296.50,36.6 296.75,39.4 297.00,41.1 297.25,40.6 297.50,42.5 297.75,47.4 298.00,44.9 298.25,47.9 298.50,49.7 298.75,48.2 299.00,52.0 299.20,56.0 299.40,59.0 299.70,77.5 300.00,98.0 300.30,79.7 300.60,64.0 300.83,65.6 301.07,63.5 301.30,64.5 301.53,65.9 301.77,61.7 302.00,66.0 302.25,71.5 302.50,76.0 302.75,72.1 303.00,66.0 303.23,64.8 303.47,66.6 303.70,65.2 303.93,65.9 304.17,65.6 304.40,65.0 304.70,71.0 305.00,82.5 305.30,85.5 305.60,88.0 305.83,98.2 306.07,107.3 306.30,120.0 306.50,156.0 306.75,158.1 307.00,159.8 307.25,161.0 307.50,163.0 307.73,182.5 307.97,201.6 308.20,221.0 308.45,210.5 308.70,199.9 308.95,189.7 309.20,178.4 309.45,168.9 309.70,157.5 309.97,155.6 310.23,157.8 310.50,156.0 310.73,162.7 310.97,176.1 311.20,187.0 311.45,177.9 311.70,175.9 311.95,173.2 312.20,168.5 312.45,165.2 312.70,160.0 312.95,164.9 313.20,170.2 313.45,171.5 313.70,174.8 313.95,178.5 314.20,184.0 314.45,187.6 314.70,182.5 314.95,178.5 315.20,174.6 315.45,179.4 315.70,177.0 315.95,173.2 316.20,170.3 316.45,169.7 316.70,167.5 316.95,165.0 317.20,162.0 317.47,149.5 317.73,143.5 318.00,133.5 318.24,145.9 318.48,162.5 318.72,173.1 318.96,187.1 319.20,200.0 319.50,294.0 319.74,287.1 319.99,279.5 320.23,272.9 320.47,265.5 320.71,259.2 320.96,250.1 321.20,243.0 321.45,248.3 321.70,250.4 321.95,255.0 322.20,258.5 322.45,259.1 322.70,265.0 322.95,263.1 323.20,259.1 323.45,255.5 323.70,253.5 323.95,248.8 324.20,246.0 324.45,251.1 324.70,256.9 324.95,261.6 325.20,268.1 325.45,271.2 325.70,277.0 325.96,279.4 326.22,281.2 326.48,283.2 326.74,285.0 327.00,288.0 327.24,284.3 327.49,281.1 327.73,279.4 327.97,275.2 328.21,273.3 328.46,270.1 328.70,266.0 328.96,266.7 329.21,266.7 329.47,270.5 329.72,268.0 329.98,270.3 330.23,269.6 330.49,272.0 330.74,272.4 331.00,274.0 331.24,271.5 331.49,273.7 331.73,271.1 331.98,273.2 332.22,265.2 332.47,269.5 332.71,263.8 332.96,265.7 333.20,265.0 333.45,259.6 333.70,257.3 333.95,250.4 334.20,248.5 334.45,241.4 334.70,238.0 334.96,233.3 335.21,233.6 335.47,231.2 335.72,228.5 335.98,225.4 336.23,224.2 336.49,220.9 336.74,221.0 337.00,216.0 337.24,213.2 337.49,209.7 337.73,210.7 337.98,209.3 338.22,205.0 338.47,204.2 338.71,203.9 338.96,200.7 339.20,200.0 339.45,202.5 339.70,203.8 339.95,203.0 340.20,209.5 340.45,211.0 340.70,210.0 340.97,229.5 341.23,248.2 341.50,265.0 341.75,260.7 342.00,255.9 342.25,251.1 342.50,248.3 342.75,240.6 343.00,238.0 343.24,231.0 343.49,222.1 343.73,214.7 343.98,209.2 344.22,199.1 344.47,190.0 344.71,183.0 344.96,174.6 345.20,168.0 345.45,181.8 345.70,194.6 345.95,212.0 346.20,226.2 346.45,236.8 346.70,250.0 346.96,259.4 347.21,267.2 347.47,272.0 347.73,278.9 347.99,288.3 348.24,289.5 348.50,300.0 348.75,303.5 349.00,311.0 349.25,315.3 349.50,321.5 349.77,325.0 350.05,330.5 350.33,330.6 350.60,336.7 350.88,342.2 351.15,342.1 351.43,346.3 351.70,347.5 351.98,354.6 352.25,359.4 352.52,366.0 352.80,371.5 353.00,372.6 353.20,375.0 353.47,372.7 353.73,364.8 354.00,358.0 354.25,355.3 354.50,357.2 354.75,354.7 355.00,354.0 355.27,359.0 355.55,363.9 355.83,364.3 356.10,369.0 356.38,365.7 356.65,363.8 356.93,363.0 357.20,358.0 357.48,358.5 357.75,361.0 358.02,359.8 358.30,362.6 358.55,355.5 358.80,351.8 359.05,347.5 359.30,343.0 359.57,336.3 359.85,333.1 360.12,330.4 360.40,325.8 360.67,324.2 360.95,323.9 361.23,322.0 361.50,321.5 361.77,320.2 362.05,322.8 362.33,320.2 362.60,315.0 362.88,311.4 363.15,311.8 363.43,308.2 363.70,306.0 363.98,305.2 364.25,306.0 364.52,299.8 364.80,297.7 365.05,293.3 365.30,293.9 365.55,291.5 365.80,289.0 366.07,289.2 366.35,289.6 366.62,290.8 366.90,291.0 367.17,293.7 367.45,296.9 367.73,298.3 368.00,302.0 368.27,305.4 368.55,312.1 368.83,317.2 369.10,321.5 369.38,324.0 369.65,327.8 369.93,327.6 370.20,332.5 370.48,332.5 370.75,339.0 371.02,340.7 371.30,343.0 371.55,346.8 371.80,343.5 372.05,350.5 372.30,352.0 372.57,357.1 372.85,353.5 373.12,353.5 373.40,356.0 373.67,357.2 373.95,351.5 374.23,346.7 374.50,345.0 374.77,343.4 375.05,341.7 375.33,339.1 375.60,339.0 375.88,338.7 376.15,334.1 376.43,332.2 376.70,330.0 376.98,330.8 377.25,333.7 377.52,335.8 377.80,336.7 378.05,336.5 378.30,339.3 378.55,341.5 378.80,341.0 379.07,338.2 379.35,336.8 379.62,331.6 379.90,332.5 380.17,330.2 380.45,331.0 380.73,333.7 381.00,330.0 381.27,327.9 381.55,326.6 381.83,324.5 382.10,321.5 382.38,320.6 382.65,321.3 382.93,320.9 383.20,319.3 383.48,314.0 383.75,316.6 384.02,317.3 384.30,315.0 384.55,313.5 384.80,318.2 385.05,319.2 385.30,317.0 385.57,316.1 385.85,314.4 386.12,313.6 386.40,310.6 386.67,308.3 386.95,310.1 387.23,302.5 387.50,300.0 387.77,296.9 388.05,295.0 388.33,291.5 388.60,286.8 388.88,280.1 389.15,282.8 389.43,277.2 389.70,273.8 389.98,274.8 390.25,265.3 390.52,264.9 390.80,260.8 391.05,261.0 391.30,256.6 391.55,254.3 391.80,254.3 392.04,254.6 392.28,251.1 392.52,253.6 392.76,252.7 393.00,252.0 393.25,252.0 393.50,247.6 393.75,241.7 394.00,247.0 394.25,246.1 394.50,241.7 394.75,240.6 395.00,240.0 395.25,238.5 395.50,238.1 395.75,231.9 396.00,232.0 396.25,234.4 396.50,236.8 396.75,239.9 397.00,243.9 397.25,247.6 397.50,248.1 397.75,252.2 398.00,256.0 398.25,257.9 398.50,258.3 398.75,258.7 399.00,258.4 399.25,257.9 399.50,259.9 399.75,260.6 400.00,260.0 400.25,257.0 400.50,255.6 400.75,251.4 401.00,252.8 401.25,247.1 401.50,244.4 401.75,242.7 402.00,240.0 402.25,243.9 402.50,245.3 402.75,245.9 403.00,247.6 403.25,252.0 403.50,255.3 403.75,259.1 404.00,262.0 404.25,263.4 404.50,266.3 404.75,265.0 405.00,263.1 405.25,266.2 405.50,264.5 405.75,272.2 406.00,268.0 406.25,264.9 406.50,267.6 406.75,263.3 407.00,256.5 407.25,258.5 407.50,257.2 407.75,253.9 408.00,252.0 408.25,255.2 408.50,250.9 408.75,250.5 409.00,247.8 409.25,248.3 409.50,244.4 409.75,246.5 410.00,246.0 410.25,246.1 410.50,241.6 410.75,234.8 411.00,231.6 411.25,230.8 411.50,227.9 411.75,224.0 412.00,222.0 412.25,222.1 412.50,221.7 412.75,222.1 413.00,224.0 413.25,223.7 413.50,225.0 413.75,225.6 414.00,226.0 414.25,228.6 414.50,232.0 414.75,235.4 415.00,240.0 415.25,243.1 415.50,242.9 415.75,246.9 416.00,251.7 416.25,251.8 416.50,254.2 416.75,258.4 417.00,260.0 417.25,259.5 417.50,253.8 417.75,256.6 418.00,257.5 418.25,255.0 418.50,257.6 418.75,254.8 419.00,251.9 419.25,249.4 419.50,252.3 419.75,251.2 420.00,250.0 420.25,248.0 420.50,249.7 420.75,248.5 421.00,247.0 421.25,247.2 421.50,243.0 421.75,244.3 422.00,243.0 422.25,245.0 422.50,244.7 422.75,246.4 423.00,247.1 423.25,246.9 423.50,247.0 423.75,247.6 424.00,249.3 424.25,248.4 424.50,251.4 424.75,251.5 425.00,250.0 425.25,251.6 425.50,250.9 425.75,252.4 426.00,252.2 426.25,251.0 426.50,252.5 426.75,256.7 427.00,255.4 427.25,253.3 427.50,254.3 427.75,254.6 428.00,256.0 428.25,258.1 428.50,257.2 428.75,255.6 429.00,259.2 429.25,258.3 429.50,260.8 429.75,259.3 430.00,260.6 430.25,260.4 430.50,263.5 430.75,258.8 431.00,262.0 431.25,263.9 431.50,262.8 431.75,265.7 432.00,263.9 432.25,265.9 432.50,269.1 432.75,267.3 433.00,268.0 433.25,268.8 433.50,271.5 433.75,273.4 434.00,272.0 434.25,270.5 434.50,269.3 434.75,267.5 435.00,266.2 435.25,266.1 435.50,266.4 435.75,263.0 436.00,262.0 436.25,260.1 436.50,251.5 436.75,249.6 437.00,246.4 437.26,241.9 437.51,243.2 437.77,241.4 438.03,239.6 438.29,238.8 438.54,237.2 438.80,235.4 439.06,233.7 439.31,231.7 439.57,227.6 439.82,227.1 440.08,222.3 440.33,221.5 440.59,218.5 440.84,219.8 441.10,213.4 441.36,218.1 441.62,223.1 441.88,227.3 442.14,229.2 442.40,235.4 442.64,236.7 442.88,237.6 443.11,236.7 443.35,239.7 443.59,239.0 443.82,238.2 444.06,240.1 444.30,239.0 444.55,240.8 444.79,240.5 445.04,240.7 445.28,241.5 445.53,240.6 445.77,242.2 446.02,244.3 446.26,242.5 446.51,241.8 446.75,246.3 447.00,245.5 447.26,241.5 447.51,241.5 447.77,234.5 448.03,228.0 448.29,227.1 448.54,225.0 448.80,220.7 449.05,214.7 449.30,208.6 449.55,203.1 449.80,198.7 450.06,196.6 450.31,194.8 450.57,195.1 450.83,193.0 451.09,191.3 451.34,188.9 451.60,187.7 451.86,183.9 452.12,182.1 452.38,180.3 452.64,174.2 452.90,173.0 453.13,175.4 453.37,177.4 453.60,180.0 453.83,180.3 454.07,182.2 454.30,185.9 454.55,186.0 454.80,186.2 455.05,185.9 455.30,185.8 455.55,188.9 455.80,188.6 456.06,181.3 456.32,175.0 456.58,170.1 456.84,162.4 457.10,156.5 457.34,159.2 457.58,158.3 457.81,160.1 458.05,159.8 458.29,163.4 458.52,163.5 458.76,165.6 459.00,165.7 459.26,165.9 459.51,163.0 459.77,161.8 460.03,162.9 460.29,161.8 460.54,161.0 460.80,162.0 461.04,160.4 461.28,158.5 461.52,157.7 461.76,154.5 462.00,152.0 462.25,149.1 462.50,154.7 462.75,157.7 463.00,158.3 463.25,154.9 463.50,158.3 463.75,163.8 464.00,162.2 464.25,161.5 464.50,165.6 464.75,169.1 465.00,171.2 465.26,170.9 465.52,164.9 465.78,161.1 466.04,161.6 466.30,158.3 466.56,157.7 466.81,161.1 467.07,166.2 467.33,167.3 467.59,170.8 467.84,172.4 468.10,173.0 468.34,174.4 468.58,174.3 468.81,176.0 469.05,176.3 469.29,174.7 469.52,178.5 469.76,177.8 470.00,178.5 470.26,178.0 470.51,178.5 470.77,174.3 471.03,172.1 471.29,170.1 471.54,167.4 471.80,167.5 472.06,169.0 472.31,170.0 472.57,170.7 472.83,172.5 473.09,169.9 473.34,172.8 473.60,174.9 473.84,175.2 474.08,177.0 474.31,177.4 474.55,182.1 474.79,180.1 475.02,178.6 475.26,180.6 475.50,182.2 475.76,178.9 476.01,178.3 476.27,174.2 476.53,176.4 476.79,173.9 477.04,172.1 477.30,171.2 477.55,171.4 477.79,173.2 478.04,171.4 478.28,172.6 478.53,172.6 478.77,173.2 479.02,172.3 479.26,172.8 479.51,172.2 479.75,169.9 480.00,171.2 480.24,170.0 480.48,168.5 480.71,167.3 480.95,163.3 481.19,162.1 481.42,163.0 481.66,160.9 481.90,158.3 482.13,158.7 482.37,160.2 482.60,157.3 482.83,158.3 483.07,156.0 483.30,156.5 483.56,155.7 483.82,162.1 484.08,161.1 484.34,167.0 484.60,165.7 484.84,167.6 485.08,166.2 485.31,171.6 485.55,172.0 485.79,176.2 486.02,177.7 486.26,176.0 486.50,182.2 486.76,183.4 487.01,180.3 487.27,182.3 487.53,181.7 487.79,179.8 488.04,181.7 488.30,182.2 488.56,180.5 488.81,183.1 489.07,184.0 489.33,184.5 489.59,187.6 489.84,192.2 490.10,189.5 490.34,194.7 490.58,196.0 490.81,197.9 491.05,201.7 491.29,204.4 491.52,206.8 491.76,214.0 492.00,217.0 492.26,215.1 492.51,214.2 492.77,210.5 493.03,208.0 493.29,208.5 493.54,200.5 493.80,200.6 494.06,197.8 494.31,197.6 494.57,192.7 494.83,192.7 495.09,194.1 495.34,194.7 495.60,189.5 495.84,189.9 496.08,189.8 496.31,192.4 496.55,190.3 496.79,190.8 497.02,191.7 497.26,193.4 497.50,193.2 497.76,190.2 498.01,189.0 498.27,186.0 498.53,181.3 498.79,183.5 499.04,180.1 499.30,176.7 499.56,176.8 499.81,180.3 500.07,180.3 500.33,181.0 500.59,180.9 500.84,183.2 501.10,184.0 501.34,187.0 501.58,187.7 501.81,187.5 502.05,187.4 502.29,189.3 502.52,190.3 502.76,194.1 503.00,195.0 503.25,192.9 503.50,191.4 503.75,190.4 504.00,189.8 504.25,185.9 504.50,184.8 504.75,183.0 505.00,178.1 505.25,179.7 505.50,176.7 505.75,174.4 506.00,171.2 506.25,172.6 506.50,170.9 506.75,169.5 507.00,168.4 507.24,169.4 507.49,170.4 507.73,170.6 507.98,170.5 508.22,171.6 508.47,173.5 508.71,173.0 508.96,172.6 509.20,174.9 509.46,177.7 509.71,178.1 509.97,181.0 510.23,182.5 510.49,181.4 510.74,180.4 511.00,184.0 511.25,188.4 511.50,188.5 511.75,190.2 512.00,192.4 512.25,194.2 512.50,196.9 512.74,195.8 512.99,195.0 513.23,195.4 513.48,195.8 513.72,193.3 513.97,194.0 514.21,195.5 514.46,192.5 514.70,193.2 514.94,192.2 515.19,197.1 515.43,194.0 515.68,192.1 515.92,194.5 516.17,191.7 516.41,193.4 516.66,192.8 516.90,193.2 517.13,193.8 517.37,195.7 517.60,197.9 517.83,199.3 518.07,200.9 518.30,202.4 518.54,201.5 518.77,203.4 519.01,205.4 519.25,205.6 519.49,209.6 519.73,206.5 519.96,204.8 520.20,207.9 520.46,210.9 520.71,204.4 520.97,206.3 521.23,208.3 521.49,207.4 521.74,209.4 522.00,209.7 522.24,209.9 522.48,211.6 522.71,213.7 522.95,212.7 523.19,217.9 523.42,214.5 523.66,217.6 523.90,218.9 524.16,218.7 524.41,219.6 524.67,220.8 524.93,220.5 525.19,219.2 525.44,222.1 525.70,222.6 525.96,223.0 526.21,223.2 526.47,221.7 526.73,221.9 526.99,219.2 527.24,221.7 527.50,220.7 527.75,221.9 528.00,224.7 528.25,227.4 528.50,230.5 528.75,228.5 529.00,233.6 529.26,231.4 529.51,230.7 529.77,227.6 530.03,224.5 530.29,225.5 530.54,221.2 530.80,218.9 531.04,219.4 531.27,218.5 531.51,214.9 531.75,216.9 531.99,214.3 532.23,212.4 532.46,210.3 532.70,211.6 532.94,212.9 533.19,214.6 533.43,210.2 533.68,214.4 533.92,212.4 534.17,213.3 534.41,216.4 534.66,216.4 534.90,215.2 535.16,214.9 535.41,211.7 535.67,212.9 535.93,212.2 536.19,210.7 536.44,213.3 536.70,209.7 536.96,209.5 537.21,208.7 537.47,202.2 537.73,203.1 537.99,198.8 538.24,197.1 538.50,195.0 538.74,195.5 538.98,189.6 539.21,189.5 539.45,188.8 539.69,186.5 539.92,183.8 540.16,180.4 540.40,180.4 540.66,180.7 540.91,179.6 541.17,178.1 541.43,179.3 541.69,176.6 541.94,177.9 542.20,174.9 542.46,181.8 542.71,182.7 542.97,187.8 543.23,193.4 543.49,197.1 543.74,203.4 544.00,206.0 544.24,205.9 544.48,201.1 544.71,200.8 544.95,200.6 545.19,197.7 545.42,198.5 545.66,197.7 545.90,195.0 546.14,192.7 546.39,189.7 546.63,189.8 546.88,187.7 547.12,182.9 547.37,180.6 547.61,181.2 547.86,178.8 548.10,176.7 548.33,170.7 548.57,171.7 548.80,166.7 549.03,161.9 549.27,160.1 549.50,156.5 549.75,158.0 550.00,156.2 550.25,152.9 550.50,150.1 550.75,150.4 551.00,149.2 551.26,151.3 551.52,153.0 551.78,154.6 552.04,158.1 552.30,158.3 552.56,160.1 552.82,161.0 553.08,164.6 553.34,166.9 553.60,169.4 553.83,173.4 554.07,176.5 554.30,180.2 554.53,183.3 554.77,184.7 555.00,189.5 555.25,190.2 555.50,194.5 555.75,196.1 556.00,195.8 556.25,199.1 556.50,200.6 556.76,203.2 557.02,201.9 557.28,201.6 557.54,203.5 557.80,206.0 558.06,210.2 558.32,212.9 558.58,216.8 558.84,219.9 559.10,224.4 559.36,222.4 559.61,221.2 559.87,217.5 560.13,215.0 560.39,217.1 560.64,215.7 560.90,211.6 561.14,211.5 561.38,214.1 561.61,218.5 561.85,214.3 562.09,216.6 562.32,216.9 562.56,215.4 562.80,217.0 563.03,213.2 563.27,210.3 563.50,210.0 563.73,205.9 563.97,203.7 564.20,204.2 564.45,208.2 564.70,206.0 564.95,212.0 565.20,214.8 565.45,217.2 565.70,220.7 565.96,219.5 566.22,221.0 566.48,219.4 566.74,221.0 567.00,224.4 567.26,225.3 567.52,231.6 567.78,234.6 568.04,235.0 568.30,240.0 568.54,245.0 568.79,246.1 569.03,248.8 569.27,253.3 569.51,257.9 569.76,259.2 570.00,262.0 570.25,266.1 570.50,264.6 570.75,268.1 571.00,270.0 571.25,269.8 571.50,275.8 571.75,279.6 572.00,283.6 572.25,286.4 572.50,290.0 572.77,299.7 573.03,303.8 573.30,311.7 573.54,315.2 573.78,318.6 574.02,323.2 574.26,326.9 574.50,330.0 574.77,334.6 575.03,341.5 575.30,345.0 575.53,337.0 575.77,328.8 576.00,319.4 576.23,312.2 576.47,303.4 576.70,295.0 576.97,300.3 577.23,308.4 577.50,310.3 577.77,316.7 578.03,321.7 578.30,328.0 578.55,326.4 578.80,323.7 579.05,320.8 579.30,319.9 579.55,315.8 579.80,313.0 580.05,309.0 580.30,305.4 580.55,308.6 580.80,303.0 581.02,299.2 581.25,296.7 581.48,289.6 581.70,285.0 581.97,285.6 582.23,287.2 582.50,286.7 582.77,287.1 583.03,288.8 583.30,288.0 583.54,291.6 583.79,294.4 584.03,295.9 584.27,295.9 584.51,298.5 584.76,303.0 585.00,305.0 585.24,302.9 585.49,305.0 585.73,297.7 585.97,301.5 586.21,296.6 586.46,296.6 586.70,295.0 586.95,296.8 587.20,292.5 587.45,290.7 587.70,290.4 587.95,288.2 588.20,291.3 588.45,289.3 588.70,287.5 588.95,283.2 589.20,283.0 589.47,285.2 589.73,287.8 590.00,291.6 590.27,293.6 590.53,297.6 590.80,298.0 591.05,298.7 591.30,300.8 591.55,302.0 591.80,303.0 592.05,304.1 592.30,307.8 592.55,309.5 592.80,312.4 593.05,314.4 593.30,315.0 593.55,314.7 593.80,318.2 594.05,319.4 594.30,320.9 594.55,316.8 594.80,322.8 595.05,325.2 595.30,324.7 595.55,325.8 595.80,328.0 596.04,331.7 596.29,329.3 596.53,333.3 596.77,333.2 597.01,337.3 597.26,336.0 597.50,338.0 597.75,337.6 598.00,335.5 598.25,336.2 598.50,335.3 598.75,332.1 599.00,332.9 599.25,326.4 599.50,328.3 599.75,328.3 600.00,328.0 600.25,325.2 600.50,323.4 600.75,322.3 601.00,321.4 601.25,317.5 601.50,316.8 601.75,315.7 602.00,311.0 602.25,311.6 602.50,310.0 602.74,311.0 602.99,306.1 603.23,307.1 603.47,302.8 603.71,300.5 603.96,303.0 604.20,298.0 604.47,297.3 604.73,302.2 605.00,306.1 605.27,308.8 605.53,309.4 605.80,313.0 606.05,312.8 606.30,316.0 606.55,316.0 606.80,313.0 607.05,318.5 607.30,320.4 607.55,319.5 607.80,324.2 608.05,321.6 608.30,321.7 608.54,321.5 608.79,321.7 609.03,321.4 609.27,322.9 609.51,320.4 609.76,321.4 610.00,320.0 610.25,323.7 610.51,321.4 610.76,324.4 611.02,322.3 611.27,322.8 611.52,323.4 611.78,323.1 612.03,322.6 612.28,323.6 612.54,325.9 612.79,325.3 613.05,323.7 613.30,326.7 613.55,325.7 613.80,328.1 614.05,331.2 614.30,330.0 614.55,333.8 614.80,334.2 615.05,336.4 615.30,336.5 615.55,338.4 615.80,338.0 616.04,335.6 616.29,335.5 616.53,336.5 616.77,339.7 617.01,336.8 617.26,335.4 617.50,337.1 617.74,335.0 617.99,335.3 618.23,333.8 618.47,332.9 618.71,334.3 618.96,334.9 619.20,333.0 619.45,328.3 619.70,330.2 619.95,330.3 620.20,327.9 620.45,327.2 620.70,323.7 620.95,322.2 621.20,321.8 621.45,316.2 621.70,316.7 621.95,316.5 622.21,317.4 622.46,316.1 622.72,317.0 622.97,315.1 623.22,315.9 623.48,310.2 623.73,314.3 623.98,314.1 624.24,316.0 624.49,312.0 624.75,313.6 625.00,313.0 625.25,311.9 625.50,310.7 625.75,312.9 626.00,311.9 626.25,309.7 626.50,308.9 626.75,309.5 627.00,310.6 627.25,311.9 627.50,310.0 627.75,310.6 628.00,310.3 628.25,307.8 628.50,310.4 628.75,310.0 629.00,310.0 629.25,307.5 629.50,307.1 629.75,306.1 630.00,306.7 630.25,307.8 630.50,308.9 630.75,307.3 631.00,313.0 631.25,307.8 631.50,310.6 631.75,312.8 632.00,312.8 632.25,315.6 632.50,315.0 632.74,317.8 632.99,316.8 633.23,318.8 633.47,320.5 633.71,320.9 633.96,323.4 634.20,325.0 634.45,324.3 634.70,323.7 634.95,323.5 635.20,323.3 635.45,323.9 635.70,326.2 635.95,321.4 636.20,321.4 636.45,323.2 636.70,321.7 636.95,320.6 637.20,320.4 637.45,318.4 637.70,317.6 637.95,316.0 638.20,315.4 638.45,314.2 638.70,308.7 638.95,312.0 639.20,311.7 639.45,307.9 639.70,307.0 639.95,304.6 640.20,302.8 640.45,299.5 640.70,299.4 640.95,295.4 641.20,292.0 641.45,292.7 641.70,290.0 641.95,288.4 642.20,284.6 642.45,285.5 642.70,284.8 642.95,282.3 643.20,283.1 643.45,281.4 643.70,280.8 643.95,279.4 644.20,278.0 644.47,277.4 644.73,276.3 645.00,271.5 645.27,274.2 645.53,270.6 645.80,270.0 646.02,267.6 646.25,262.8 646.48,261.7 646.70,256.7 646.97,258.3 647.23,262.3 647.50,263.7 647.77,269.9 648.03,271.4 648.30,273.0 648.54,274.7 648.79,275.9 649.03,279.1 649.27,281.1 649.51,281.6 649.76,283.6 650.00,286.7 650.24,279.7 650.49,284.8 650.73,283.8 650.97,280.4 651.21,279.6 651.46,276.9 651.70,278.0 651.95,279.4 652.20,282.9 652.45,282.9 652.70,287.2 652.95,287.8 653.20,287.7 653.45,290.8 653.70,291.5 653.95,294.3 654.20,295.0 654.45,297.3 654.70,296.6 654.95,298.8 655.20,297.6 655.45,300.8 655.70,303.1 655.95,303.0 656.20,302.6 656.45,301.1 656.70,306.7 656.95,309.9 657.20,308.0 657.45,309.5 657.70,306.2 657.95,311.9 658.20,309.8 658.45,312.1 658.70,315.8 658.95,313.9 659.20,315.0 659.47,311.0 659.73,312.6 660.00,311.3 660.27,308.0 660.53,306.4 660.80,306.7 661.05,306.1 661.30,308.8 661.55,312.2 661.80,307.8 662.05,311.7 662.30,313.6 662.55,315.0 662.80,313.9 663.05,313.3 663.30,316.7 663.55,314.6 663.80,312.3 664.05,310.5 664.30,310.3 664.55,305.6 664.80,307.4 665.05,305.0 665.30,298.8 665.55,299.9 665.80,298.0 666.04,300.4 666.29,299.9 666.53,295.2 666.77,302.0 667.01,297.9 667.26,293.9 667.50,298.5 667.74,298.9 667.99,298.6 668.23,297.0 668.47,301.8 668.71,296.8 668.96,297.2 669.20,296.7 669.45,297.7 669.70,299.2 669.95,298.8 670.20,297.6 670.45,299.3 670.70,299.7 670.95,301.4 671.20,301.7 671.45,302.0 671.70,303.0 671.95,305.6 672.20,306.3 672.45,306.2 672.70,307.7 672.95,307.2 673.20,310.4 673.45,311.2 673.70,312.3 673.95,312.1 674.20,315.0 674.47,311.9 674.73,305.8 675.00,305.0 675.27,300.7 675.53,299.0 675.80,295.0 676.05,295.6 676.30,298.8 676.55,297.7 676.80,302.7 677.05,299.1 677.30,301.0 677.55,301.2 677.80,303.0 678.05,303.4 678.30,305.0 678.54,304.1 678.79,303.1 679.03,301.2 679.27,301.2 679.51,298.4 679.76,297.4 680.00,302.9 680.24,294.5 680.49,291.0 680.73,292.6 680.97,290.6 681.21,290.7 681.46,288.8 681.70,288.0 681.95,285.1 682.20,287.7 682.45,286.0 682.70,288.9 682.95,289.4 683.20,292.5 683.45,288.6 683.70,285.4 683.95,290.0 684.20,290.0 684.47,292.0 684.73,294.3 685.00,291.3 685.27,297.6 685.53,303.6 685.80,303.0 686.05,302.1 686.30,300.0 686.55,298.1 686.80,294.7 687.05,295.8 687.30,287.8 687.55,292.5 687.80,291.2 688.05,287.2 688.30,286.7 688.54,286.7 688.79,286.2 689.03,287.4 689.27,289.5 689.51,291.4 689.76,290.9 690.00,294.0 690.24,292.5 690.49,293.9 690.73,292.6 690.97,297.4 691.21,292.7 691.46,292.5 691.70,296.7 691.95,296.2 692.21,296.2 692.46,298.3 692.72,296.7 692.97,296.8 693.22,293.4 693.48,294.7 693.73,295.5 693.98,293.8 694.24,293.0 694.49,293.5 694.75,294.9 695.00,295.0 695.25,290.9 695.50,293.9 695.75,292.7 696.00,290.5 696.25,290.6 696.50,290.1 696.75,287.1 697.00,283.8 697.25,286.8 697.50,285.0 697.74,285.3 697.99,283.0 698.23,281.2 698.47,276.5 698.71,277.6 698.96,275.9 699.20,273.0 699.45,273.0 699.70,272.4 699.95,274.7 700.20,272.4 700.45,270.4 700.70,272.5 700.95,274.0 701.20,270.6 701.45,271.5 701.70,270.0 701.97,274.7 702.23,273.4 702.50,279.1 702.77,275.7 703.03,280.5 703.30,280.0 703.55,276.6 703.80,276.5 704.05,276.3 704.30,275.7 704.55,274.5 704.80,274.9 705.05,273.1 705.30,272.9 705.55,271.3 705.80,270.0 706.04,270.9 706.29,269.7 706.53,270.9 706.77,272.1 707.01,272.6 707.26,271.0 707.50,272.0 707.74,269.8 707.99,269.0 708.23,269.6 708.47,272.1 708.71,272.8 708.96,271.7 709.20,271.7 709.45,270.5 709.70,272.5 709.95,271.4 710.20,274.0 710.45,270.1 710.70,270.7 710.95,270.9 711.20,272.9 711.45,273.7 711.70,273.0 711.95,270.6 712.20,271.8 712.45,268.4 712.70,264.9 712.95,268.1 713.20,264.7 713.45,263.1 713.70,264.2 713.95,256.4 714.20,258.0 714.47,254.3 714.73,252.5 715.00,252.5 715.24,249.0 715.49,249.7 715.73,250.3 715.97,247.2 716.21,249.2 716.46,245.9 716.70,244.0 716.96,245.5 717.22,248.6 717.48,248.3 717.74,252.7 718.00,251.0 718.25,250.7 718.50,250.9 718.75,249.0 719.00,249.0 719.24,251.2 719.48,254.7 719.72,256.5 719.96,259.3 720.20,261.8 720.46,259.7 720.71,260.3 720.97,261.4 721.23,261.6 721.49,260.2 721.74,259.2 722.00,259.5 722.24,262.3 722.48,262.5 722.72,262.9 722.96,261.3 723.20,263.0 723.46,264.3 723.71,259.2 723.97,260.9 724.23,257.2 724.49,260.1 724.74,258.7 725.00,257.0 725.24,259.2 725.49,258.1 725.73,260.0 725.97,260.9 726.21,257.2 726.46,264.7 726.70,263.0 726.96,263.6 727.21,260.1 727.47,262.1 727.72,260.3 727.98,259.2 728.23,262.1 728.49,258.6 728.74,258.5 729.00,259.5 729.26,258.8 729.51,259.1 729.77,259.8 730.02,258.4 730.28,257.1 730.53,256.0 730.79,256.1 731.04,256.7 731.30,257.0 731.54,255.8 731.78,257.7 732.02,256.0 732.26,257.0 732.50,257.2 732.74,255.0 732.98,257.0 733.22,252.2 733.46,257.8 733.70,256.0 733.94,255.4 734.19,253.4 734.43,255.9 734.67,251.8 734.91,252.8 735.16,252.2 735.40,250.0 735.66,248.3 735.91,248.2 736.17,248.9 736.43,241.9 736.69,245.3 736.94,242.8 737.20,243.0 737.46,240.7 737.71,239.7 737.97,239.5 738.23,239.4 738.49,238.6 738.74,236.7 739.00,236.0 739.24,235.4 739.49,238.7 739.73,238.3 739.97,239.9 740.21,240.8 740.46,240.4 740.70,242.0 740.94,239.9 741.19,243.4 741.43,245.0 741.67,245.4 741.91,250.5 742.16,249.5 742.40,251.0 742.66,249.6 742.91,250.8 743.17,250.0 743.43,246.8 743.69,242.9 743.94,246.2 744.20,245.5 744.46,244.0 744.71,242.8 744.97,243.5 745.23,240.7 745.49,236.7 745.74,240.7 746.00,237.3 746.24,235.5 746.49,241.0 746.73,242.4 746.97,243.3 747.21,242.9 747.46,245.5 747.70,246.6 747.98,249.8 748.25,246.6 748.52,246.6 748.80,245.5 749.04,248.5 749.28,249.4 749.52,255.9 749.76,259.9 750.00,260.6 750.26,259.8 750.51,255.0 750.77,255.4 751.02,253.3 751.28,251.8 751.53,248.1 751.79,245.7 752.04,245.0 752.30,243.0 752.54,251.6 752.78,250.9 753.02,255.1 753.26,259.4 753.50,263.0 753.76,262.7 754.01,259.8 754.27,263.5 754.52,259.2 754.78,258.3 755.03,255.0 755.29,256.1 755.54,255.2 755.80,254.8 756.06,251.9 756.31,252.9 756.57,254.7 756.82,251.1 757.08,250.6 757.33,251.8 757.59,251.1 757.84,251.6 758.10,249.0 758.34,253.6 758.58,250.4 758.81,249.4 759.05,251.0 759.29,251.4 759.52,252.0 759.76,253.2 760.00,252.5 760.27,251.9 760.53,250.8 760.80,249.0 761.07,246.6 761.33,246.8 761.60,244.3 761.84,247.3 762.08,246.4 762.32,251.8 762.56,256.3 762.80,258.3 763.06,255.5 763.31,256.5 763.57,255.4 763.83,254.8 764.09,255.1 764.34,249.2 764.60,251.3 764.84,252.4 765.09,251.1 765.33,251.6 765.57,255.5 765.81,255.3 766.06,256.2 766.30,256.0 766.56,256.2 766.81,253.3 767.07,254.1 767.32,252.9 767.58,251.5 767.83,248.9 768.09,250.6 768.34,247.7 768.60,246.6 768.84,246.0 769.08,239.9 769.32,237.1 769.56,236.5 769.80,231.5 770.04,229.4 770.28,234.3 770.52,238.9 770.76,237.2 771.00,239.6 771.24,240.1 771.49,242.2 771.73,244.0 771.97,245.8 772.21,242.9 772.46,246.1 772.70,246.6 772.96,247.6 773.21,245.2 773.47,246.6 773.73,244.1 773.99,244.4 774.24,240.5 774.50,243.0 774.77,241.1 775.05,240.6 775.33,235.8 775.60,236.0 775.86,237.1 776.11,240.1 776.37,243.1 776.63,239.0 776.89,244.8 777.14,247.8 777.40,250.0 777.64,250.7 777.89,250.8 778.13,248.5 778.37,250.8 778.61,248.1 778.86,249.4 779.10,249.0 779.34,249.9 779.58,245.7 779.81,245.4 780.05,244.5 780.29,240.2 780.52,240.9 780.76,237.9 781.00,238.5 781.27,239.7 781.53,239.6 781.80,243.7 782.07,244.1 782.33,242.4 782.60,244.3 782.84,247.3 783.08,244.8 783.32,246.5 783.56,245.8 783.80,246.6 784.06,244.1 784.31,243.8 784.57,242.4 784.83,240.5 785.09,243.1 785.34,241.8 785.60,237.3 785.84,236.2 786.09,237.8 786.33,243.2 786.57,240.5 786.81,238.9 787.06,244.3 787.30,242.0 787.54,240.2 787.79,236.7 788.03,238.1 788.27,238.5 788.51,232.4 788.76,235.9 789.00,228.2 789.24,229.2 789.48,237.2 789.72,222.0 789.96,227.8 790.20,221.9 790.46,224.0 790.71,220.6 790.97,237.5 791.23,217.2 791.49,218.8 791.74,230.5 792.00,217.6 792.27,224.9 792.55,220.5 792.83,214.1 793.10,232.1 793.34,221.2 793.58,223.7 793.82,234.3 794.06,234.8 794.30,229.2 794.53,219.1 794.77,225.8 795.00,234.0 795.25,234.9 795.50,216.5 795.75,206.3 796.00,221.3 796.25,234.4 796.50,232.9 796.75,216.1 797.00,210.8 797.25,205.9 797.50,227.9 797.75,230.1 798.00,225.9 798.25,229.4 798.50,227.1 798.75,223.8 799.00,214.4 799.25,210.2 799.50,230.2 799.75,234.0 800.00,213.5 800.25,211.8 800.50,212.7 800.75,224.2 801.00,210.3 801.25,211.4 801.50,205.9 801.75,219.7 802.00,229.4 802.25,222.5 802.50,222.0 802.75,210.4 803.00,217.8 803.25,209.9 803.50,205.1 803.75,215.3 804.00,222.9 804.25,211.4 804.50,215.6 804.75,218.7 805.00,221.5 805.25,210.8 805.50,220.9 805.75,219.4 806.00,221.8 806.25,209.3 806.50,217.7 806.75,217.5 807.00,208.3 807.25,213.6 807.50,168.0 807.75,220.3 808.00,207.8 808.25,216.2 808.50,209.0 808.75,188.6 809.00,206.2 809.25,218.3 809.50,217.8 809.75,206.5 810.00,223.6 810.25,211.7 810.50,215.8 810.75,219.1 811.00,232.6 811.25,235.2 811.50,240.6 811.75,241.8 812.00,238.5 812.25,246.2 812.50,230.0 812.75,259.0 813.00,218.2 813.25,223.3 813.50,221.7 813.75,219.1 814.00,251.0 814.25,228.2 814.50,226.6 814.75,232.3 815.00,242.1 815.25,227.8 815.50,228.5 815.75,238.2 816.00,231.8 816.25,225.2 816.50,238.7 816.75,232.6 817.00,240.5 817.25,223.1 817.50,225.3 817.75,212.4 818.00,227.8 818.25,212.2 818.50,214.9 818.75,213.4 819.00,234.0 819.25,230.6 819.50,233.4 819.75,228.3 820.00,236.3 820.25,209.6 820.50,216.3 820.75,228.3 821.00,234.3 821.25,223.8 821.50,230.3 821.75,223.9 822.00,230.4 822.25,213.7 822.50,222.7 822.75,229.9 823.00,211.1 823.25,198.3 823.50,200.2 823.75,212.5 824.00,214.4 824.25,212.8 824.50,219.8 824.75,209.9 825.00,220.5 825.25,223.7 825.50,224.4 825.75,218.5 826.00,199.6 826.25,210.0 826.50,203.5 826.75,195.7 827.00,196.7 827.25,202.6 827.50,194.3 827.75,189.4 828.00,218.3 828.25,222.3 828.50,211.3 828.75,193.1 829.00,161.5 829.25,184.6 829.50,190.9 829.75,206.2 830.00,177.7 830.25,176.0 830.50,195.5 830.75,206.5 831.00,165.0 831.25,196.3 831.50,198.4 831.75,187.1 832.00,191.7 832.25,186.9 832.50,180.5 832.75,182.0 833.00,196.5 833.25,194.9 833.50,202.3 833.75,193.0 834.00,193.6 834.25,193.1 834.50,190.7 834.75,193.9 835.00,179.4 835.26,187.1 835.51,189.7 835.77,190.4 836.02,180.1 836.28,180.0 836.53,179.7 836.79,181.7 837.04,179.8 837.30,177.5 837.55,177.2 837.80,176.1 838.05,175.1 838.30,178.8 838.55,176.0 838.80,173.6 839.05,174.8 839.30,175.6 839.55,174.6 839.80,173.7 840.05,174.7 840.30,172.0 840.55,173.0 840.80,171.7 841.04,176.1 841.28,180.9 841.52,187.0 841.76,191.0 842.00,196.0 842.24,193.8 842.48,191.4 842.72,186.2 842.96,185.9 843.20,183.0 843.46,183.2 843.71,181.4 843.97,181.9 844.22,180.2 844.48,181.4 844.73,180.6 844.99,181.9 845.24,181.1 845.50,181.0 845.76,180.5 846.01,180.1 846.27,178.2 846.52,180.7 846.78,177.3 847.03,181.2 847.29,178.8 847.54,179.2 847.80,177.5 848.06,177.6 848.31,175.0 848.57,176.2 848.83,172.0 849.09,169.8 849.34,171.7 849.60,169.3 849.84,172.1 850.08,170.7 850.32,169.4 850.56,169.9 850.80,170.7 851.04,172.9 851.28,170.4 851.52,173.3 851.76,173.6 852.00,174.0 852.25,177.8 852.50,178.0 852.75,180.1 853.00,181.0 853.26,182.0 853.52,184.5 853.78,185.7 854.04,189.3 854.30,190.0 854.53,199.4 854.77,203.3 855.00,208.0 855.27,208.3 855.53,199.5 855.80,200.3 856.07,199.5 856.33,194.8 856.60,194.0 856.84,196.3 857.09,196.6 857.33,203.9 857.57,202.6 857.81,201.9 858.06,209.6 858.30,211.0 858.54,209.6 858.79,212.7 859.03,213.2 859.27,212.6 859.51,214.6 859.76,215.0 860.00,215.0 860.26,214.3 860.52,218.6 860.78,221.5 861.04,222.0 861.30,223.0 861.54,217.8 861.79,221.6 862.03,221.2 862.27,217.8 862.51,221.7 862.76,219.1 863.00,218.0 863.26,218.9 863.51,219.3 863.77,218.8 864.03,223.5 864.29,227.8 864.54,224.5 864.80,226.5 865.04,227.2 865.29,223.6 865.53,223.0 865.77,223.2 866.01,217.1 866.26,215.2 866.50,215.0 866.76,216.4 867.01,216.2 867.27,215.3 867.52,215.5 867.78,218.6 868.03,216.9 868.29,218.8 868.54,216.9 868.80,217.0 869.04,213.2 869.28,209.0 869.52,210.5 869.76,204.6 870.00,202.0 870.24,203.9 870.48,203.3 870.72,207.2 870.96,206.9 871.20,208.0 871.45,206.0 871.71,206.3 871.96,204.7 872.22,204.4 872.47,204.2 872.73,200.0 872.98,201.6 873.24,200.1 873.49,197.9 873.75,196.4 874.00,197.0 874.26,197.4 874.51,199.9 874.77,198.8 875.03,199.6 875.29,203.5 875.54,201.6 875.80,204.0 876.04,203.2 876.28,202.3 876.52,202.2 876.76,203.2 877.00,204.9 877.24,204.4 877.48,206.7 877.72,202.9 877.96,206.3 878.20,203.0 878.46,205.1 878.71,203.1 878.97,202.8 879.23,202.5 879.49,202.5 879.74,203.3 880.00,203.0 880.26,202.8 880.51,203.5 880.77,200.6 881.02,201.0 881.28,198.2 881.53,198.7 881.79,199.8 882.04,198.7 882.30,197.0 882.54,198.5 882.79,198.9 883.03,200.6 883.27,200.0 883.51,199.6 883.76,201.0 884.00,201.0 884.26,203.3 884.51,203.3 884.77,202.9 885.03,205.1 885.29,205.8 885.54,205.2 885.80,206.7 886.04,207.1 886.29,203.7 886.53,203.9 886.77,205.7 887.01,203.2 887.26,204.6 887.50,201.0 887.76,199.3 888.01,198.1 888.27,200.0 888.52,199.6 888.78,194.0 889.03,194.7 889.29,197.3 889.54,198.6 889.80,195.0 890.06,194.3 890.31,195.2 890.57,192.7 890.83,190.9 891.09,192.6 891.34,189.6 891.60,190.0 891.84,190.7 892.08,191.7 892.32,190.8 892.56,191.2 892.80,191.5 893.03,191.5 893.27,191.1 893.50,191.5" fill="none" stroke="#51c1ad" stroke-width="2.05" stroke-linejoin="round"/>
<path d="M94,-2 V596.8 H893.8 V-2" fill="none" stroke="#1e2c72" stroke-width="1.9" stroke-linejoin="round"/>
<g fill="none" stroke="#1c2878" stroke-width="1.5" stroke-linejoin="round">
<path d="M352.6,375.5 L356.3,420 H363.3"/>
<path d="M551,148.8 L566.6,144.2 H573.4"/>
<path d="M545.5,353 H553.5 L575.5,345"/>
<path d="M821,130 L849.7,169"/>
<path d="M893.8,192.5 L907.3,199 H914"/>
</g>
<g font-family="'Liberation Sans', sans-serif" font-size="16" fill="#2a3578" stroke="#2a3578" stroke-width="0.3">
<text x="79.6" y="600.6" text-anchor="end">0%</text><text x="79.6" y="540.6" text-anchor="end">10%</text><text x="79.6" y="480.6" text-anchor="end">20%</text><text x="79.6" y="420.6" text-anchor="end">30%</text><text x="79.6" y="360.6" text-anchor="end">40%</text><text x="79.6" y="300.6" text-anchor="end">50%</text><text x="79.6" y="240.6" text-anchor="end">60%</text><text x="79.6" y="180.6" text-anchor="end">70%</text><text x="79.6" y="120.6" text-anchor="end">80%</text><text x="79.6" y="60.6" text-anchor="end">90%</text><text x="79.6" y="0.6" text-anchor="end">100%</text>
<text x="909.4" y="600.6" textLength="34.5" lengthAdjust="spacingAndGlyphs">$100</text><text x="909.4" y="450.6" textLength="47.7" lengthAdjust="spacingAndGlyphs">$1,000</text><text x="909.4" y="300.6">$10,000</text><text x="909.4" y="150.6">$100,000</text><text x="909.4" y="0.6">$1,000,000</text>
<text x="367.8" y="424.9" textLength="44.1" lengthAdjust="spacingAndGlyphs">37.0%</text>
<text x="578.6" y="149" textLength="42.5" lengthAdjust="spacingAndGlyphs">74.7%</text>
<text x="493.3" y="358" textLength="47.7" lengthAdjust="spacingAndGlyphs">42.0%</text>
<text x="799.9" y="121" textLength="42.0" lengthAdjust="spacingAndGlyphs">71.4%</text>
<text x="918.3" y="203.2">67.6%</text>
</g>
<g font-family="'Liberation Sans', sans-serif" font-size="16" font-weight="bold" fill="#2a3578">
<text transform="translate(28,296) rotate(-90)" text-anchor="middle">Bitcoin Dominance</text>
<text transform="translate(993.3,296) rotate(-90)" text-anchor="middle" textLength="185.5" lengthAdjust="spacingAndGlyphs">Bitcoin Price (Log Scale)</text>
</g>
<g fill="none" stroke="#5cc8b4" stroke-width="3.7">
<path d="M716.6,-1.1 H745.75 V6.8 H719.5 A4.025,4.025 0 0 0 719.5,14.85 H727.3 V19.8"/>
<path d="M747.9,14.85 H735.4 V19.8"/>
</g>
<text x="753.4" y="12.9" font-family="'Liberation Sans', sans-serif" font-size="28" font-weight="bold" fill="#161f86">NYDIG</text>
</svg>
</body></html>
